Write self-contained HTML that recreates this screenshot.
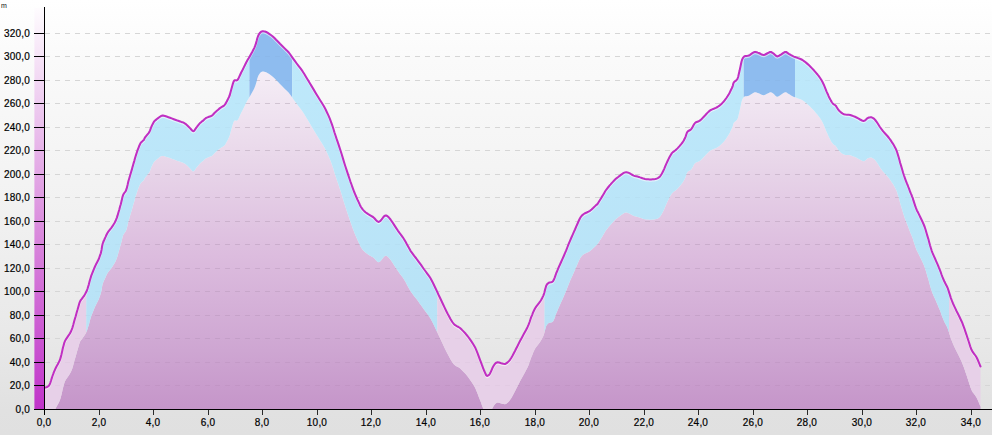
<!DOCTYPE html>
<html><head><meta charset="utf-8"><title>Elevation profile</title>
<style>
html,body{margin:0;padding:0;}
body{width:992px;height:435px;overflow:hidden;background:#e0e0e0;font-family:"Liberation Sans",sans-serif;}
#c{position:relative;width:992px;height:435px;background:linear-gradient(to bottom,#ffffff 0px,#fafafa 60px,#f2f2f2 200px,#e9e9e9 330px,#e1e1e1 410px,#e0e0e0 435px);overflow:hidden;}
svg{position:absolute;left:0;top:0;}
.yl,.xl{-webkit-text-stroke:0.2px #000;}
.yl{position:absolute;left:0;width:30px;text-align:right;font-size:10px;line-height:12px;color:#000;letter-spacing:0.2px;}
.xl{position:absolute;top:417px;width:40px;text-align:center;font-size:10px;line-height:12px;color:#000;letter-spacing:0.2px;}
.u{position:absolute;left:1px;top:2px;font-size:7px;line-height:8px;color:#111;}
</style></head><body><div id="c">
<svg width="992" height="435" viewBox="0 0 992 435">
<defs>
<linearGradient id="gf" gradientUnits="userSpaceOnUse" x1="0" y1="60" x2="0" y2="410">
<stop offset="0" stop-color="#f7f0f8"/><stop offset="0.0714" stop-color="#f3eaf4"/><stop offset="0.2743" stop-color="#e9d8ea"/><stop offset="0.56" stop-color="#dcbcde"/><stop offset="0.83" stop-color="#cea6d2"/><stop offset="1" stop-color="#c595c9"/>
</linearGradient>
<linearGradient id="gb" gradientUnits="userSpaceOnUse" x1="0" y1="8" x2="0" y2="410">
<stop offset="0" stop-color="#fefcfe"/><stop offset="0.25" stop-color="#edc9ef"/><stop offset="0.55" stop-color="#da8cdd"/><stop offset="1" stop-color="#c033c9"/>
</linearGradient>
<linearGradient id="gl" gradientUnits="userSpaceOnUse" x1="0" y1="50" x2="0" y2="330"><stop offset="0" stop-color="#bee9fb"/><stop offset="1" stop-color="#b8e2f6"/></linearGradient>
</defs>
<g stroke="#d6d6d6" stroke-width="1" stroke-dasharray="5,5" shape-rendering="crispEdges"><line x1="45" x2="992" y1="385.5" y2="385.5"/><line x1="45" x2="992" y1="362.5" y2="362.5"/><line x1="45" x2="992" y1="338.5" y2="338.5"/><line x1="45" x2="992" y1="315.5" y2="315.5"/><line x1="45" x2="992" y1="291.5" y2="291.5"/><line x1="45" x2="992" y1="268.5" y2="268.5"/><line x1="45" x2="992" y1="244.5" y2="244.5"/><line x1="45" x2="992" y1="221.5" y2="221.5"/><line x1="45" x2="992" y1="197.5" y2="197.5"/><line x1="45" x2="992" y1="174.5" y2="174.5"/><line x1="45" x2="992" y1="150.5" y2="150.5"/><line x1="45" x2="992" y1="127.5" y2="127.5"/><line x1="45" x2="992" y1="103.5" y2="103.5"/><line x1="45" x2="992" y1="80.5" y2="80.5"/><line x1="45" x2="992" y1="56.5" y2="56.5"/><line x1="45" x2="992" y1="33.5" y2="33.5"/></g>
<polygon points="45.0,409.5 45.0,409.5 45.3,409.5 45.9,409.5 46.5,409.5 47.0,409.5 47.5,409.5 48.2,409.5 48.9,409.5 49.5,409.5 50.2,409.5 51.0,409.5 51.8,409.5 52.5,409.5 53.2,409.5 53.9,409.5 54.7,409.5 55.5,408.8 56.5,406.8 57.8,404.6 59.0,402.2 60.0,400.1 60.7,397.7 61.4,395.1 62.0,392.4 62.5,390.1 63.0,387.9 63.6,385.7 64.2,383.4 65.0,381.3 66.3,379.1 68.1,376.5 69.9,373.8 71.2,371.3 72.3,368.4 73.3,365.0 74.2,361.6 75.0,358.8 75.7,356.5 76.3,354.2 76.9,352.0 77.5,350.1 78.1,348.0 78.8,345.6 79.4,343.4 80.0,341.8 80.6,340.7 81.2,339.9 81.8,339.2 82.5,338.3 83.3,337.1 84.4,335.6 85.4,333.9 86.2,332.4 86.9,330.8 87.6,328.8 88.2,326.8 88.8,324.9 89.3,322.9 89.9,320.6 90.6,318.3 91.2,316.2 92.1,314.0 93.1,311.4 94.1,308.9 95.0,306.8 95.9,304.9 96.9,303.0 97.9,301.0 98.8,299.3 99.4,297.5 100.1,295.6 100.8,293.6 101.2,291.8 101.6,290.0 101.9,288.0 102.2,286.0 102.6,284.3 103.1,282.8 103.7,281.3 104.4,279.8 105.0,278.4 105.7,276.9 106.4,275.3 107.3,273.6 108.1,272.2 109.1,270.9 110.3,269.4 111.5,267.9 112.5,266.6 113.4,265.0 114.5,263.3 115.5,261.4 116.2,259.7 116.9,257.9 117.6,255.7 118.2,253.5 118.8,251.6 119.4,249.5 120.0,247.1 120.7,244.8 121.2,242.8 121.7,240.9 122.1,238.9 122.6,236.9 123.1,235.3 123.8,234.0 124.7,232.8 125.6,231.6 126.2,230.3 126.7,228.7 127.2,226.7 127.7,224.7 128.1,222.8 128.6,220.8 129.3,218.5 130.0,216.1 130.6,214.1 131.2,212.0 131.9,209.7 132.5,207.4 133.1,205.3 133.7,203.2 134.4,200.9 135.0,198.5 135.6,196.6 136.2,194.7 136.9,192.6 137.5,190.7 138.1,189.1 138.7,187.6 139.3,186.0 140.0,184.5 140.6,183.4 141.3,182.5 142.2,181.7 143.1,180.9 143.8,180.3 144.1,179.7 144.3,179.2 144.6,178.6 145.0,177.8 145.9,176.7 147.1,175.2 148.4,173.6 149.4,172.2 150.1,170.7 150.7,169.0 151.3,167.3 151.9,165.9 152.5,164.7 153.1,163.6 153.7,162.5 154.4,161.6 155.2,160.7 156.2,159.9 157.2,159.1 158.1,158.4 158.9,157.8 159.7,157.1 160.6,156.6 161.2,156.2 161.8,156.0 162.3,155.9 163.0,155.9 163.8,156.1 165.0,156.4 166.6,156.9 168.4,157.5 170.0,158.1 171.7,158.7 173.8,159.5 175.9,160.3 177.5,160.9 178.8,161.3 180.2,161.8 181.4,162.2 182.5,162.6 183.5,163.0 184.4,163.5 185.4,164.1 186.2,164.7 187.1,165.5 188.1,166.5 189.1,167.5 190.0,168.4 190.8,169.3 191.7,170.4 192.6,171.2 193.4,171.6 194.1,171.1 194.8,170.2 195.5,169.1 196.2,168.1 197.1,167.0 198.1,165.7 199.1,164.4 200.0,163.4 200.8,162.7 201.6,162.0 202.4,161.5 203.1,160.9 203.8,160.3 204.5,159.5 205.4,158.8 206.2,158.2 207.5,157.7 209.0,157.1 210.6,156.5 211.9,155.9 212.9,155.1 213.8,154.1 214.7,153.1 215.6,152.2 216.6,151.3 217.8,150.3 219.0,149.2 220.0,148.4 221.1,147.7 222.3,147.0 223.5,146.3 224.4,145.6 225.1,144.7 225.7,143.7 226.3,142.6 226.9,141.6 227.5,140.4 228.2,138.9 229.0,137.3 229.8,135.3 230.6,132.3 231.7,128.2 232.8,124.2 233.8,121.5 234.6,120.6 235.6,120.6 236.6,120.7 237.5,120.3 238.4,119.0 239.3,117.0 240.3,114.8 241.2,112.8 242.4,110.6 243.7,107.9 245.1,105.1 246.2,102.8 247.4,100.6 248.8,98.3 250.1,96.0 251.2,94.0 252.2,92.3 253.2,90.4 254.2,88.4 255.0,86.5 255.8,84.2 256.6,81.4 257.3,78.6 258.0,76.5 258.7,75.1 259.4,73.9 260.1,73.0 260.8,72.3 261.3,71.9 261.8,71.7 262.4,71.6 263.0,71.5 263.6,71.6 264.4,71.7 265.3,71.9 266.2,72.3 267.5,73.0 269.2,74.1 270.9,75.3 272.5,76.5 274.2,78.1 276.1,80.1 278.1,82.1 280.0,84.0 282.0,86.0 284.4,88.4 286.8,90.7 288.8,92.8 290.3,94.8 291.9,97.1 293.5,99.4 295.0,101.5 296.7,103.8 298.7,106.4 300.7,109.0 302.5,111.5 304.3,114.3 306.2,117.5 308.2,120.8 310.0,123.8 311.9,126.9 314.0,130.4 316.1,134.0 318.0,137.1 319.8,140.0 321.9,143.3 323.9,146.6 325.5,149.6 326.9,152.5 328.4,155.7 329.8,159.0 331.0,162.1 332.1,165.2 333.3,168.8 334.4,172.5 335.5,175.8 336.6,179.2 338.0,183.2 339.3,187.2 340.5,190.8 341.7,194.6 343.0,198.9 344.3,203.3 345.5,207.1 346.7,210.7 348.1,214.9 349.4,218.8 350.5,222.1 351.5,224.8 352.4,227.5 353.4,230.1 354.2,232.3 355.1,234.5 356.1,236.8 357.1,239.1 358.0,241.1 358.9,242.9 359.8,245.0 360.8,247.0 361.8,248.6 362.8,249.9 364.1,251.2 365.5,252.5 366.8,253.6 368.2,254.5 369.8,255.4 371.5,256.4 373.0,257.3 374.4,258.6 375.9,260.3 377.4,261.7 378.8,262.3 380.1,261.5 381.7,259.7 383.1,257.8 384.2,256.6 385.0,256.0 385.6,255.8 386.1,255.8 386.8,256.1 387.5,256.5 388.4,257.3 389.4,258.4 390.5,259.8 392.1,262.1 394.1,265.2 396.2,268.4 398.0,271.1 399.5,273.2 401.2,275.4 402.8,277.6 404.2,279.8 405.7,282.3 407.3,285.4 409.0,288.4 410.5,291.1 412.2,293.5 414.2,296.2 416.3,298.8 418.0,301.1 419.5,303.2 421.2,305.5 422.8,307.8 424.2,309.8 425.7,311.8 427.4,314.1 429.1,316.4 430.5,318.6 431.7,320.8 433.0,323.3 434.3,326.0 435.5,328.6 436.9,331.4 438.4,334.8 440.1,338.3 441.5,341.3 442.9,344.3 444.5,347.7 446.1,351.0 447.5,353.8 449.0,356.5 450.6,359.5 452.3,362.3 453.8,364.3 455.2,365.5 456.8,366.4 458.5,367.3 460.0,368.3 461.7,369.9 463.7,371.9 465.7,374.1 467.5,376.3 469.3,378.7 471.4,381.7 473.4,384.8 475.0,387.6 476.3,390.5 477.7,393.9 478.9,397.2 480.0,400.1 481.0,402.6 482.0,405.5 483.0,408.1 483.8,409.5 484.4,409.5 485.0,409.5 485.5,409.5 485.9,409.5 486.2,409.5 486.5,409.5 486.8,409.5 487.1,409.5 487.4,409.5 487.7,409.5 488.1,409.5 488.4,409.5 488.7,409.5 489.1,409.5 489.5,409.5 490.0,409.5 490.8,409.5 491.8,409.5 492.8,407.5 493.8,405.8 494.6,404.7 495.4,403.7 496.4,402.9 497.5,402.6 499.1,402.8 501.2,403.5 503.3,404.1 505.0,404.3 506.3,403.7 507.6,402.7 508.9,401.4 510.0,400.1 511.2,398.3 512.5,396.0 513.8,393.5 515.0,391.3 516.1,389.1 517.4,386.6 518.7,383.9 520.0,381.3 521.7,378.2 523.8,374.4 525.9,370.6 527.5,367.6 528.6,365.0 529.6,362.3 530.4,359.8 531.2,357.6 532.1,355.4 533.0,353.0 534.0,350.8 535.0,348.8 536.2,346.9 537.8,344.9 539.3,343.0 540.5,341.3 541.4,339.8 542.3,338.1 543.1,336.4 543.8,334.8 544.4,332.8 545.0,330.2 545.7,327.8 546.2,326.1 546.8,325.0 547.4,324.2 548.1,323.6 548.8,323.1 549.7,322.7 550.8,322.6 552.0,322.3 553.0,321.6 553.8,320.1 554.7,317.9 555.5,315.6 556.2,313.6 557.1,311.6 558.0,309.3 559.0,307.0 560.0,304.8 561.1,302.3 562.4,299.4 563.8,296.3 565.0,293.6 566.2,290.7 567.5,287.3 568.8,283.9 570.0,281.1 571.2,278.3 572.5,275.4 573.8,272.4 575.0,269.8 576.2,267.0 577.6,263.8 578.9,260.8 580.0,258.6 580.9,257.1 581.8,256.0 582.7,255.1 583.8,254.3 585.1,253.5 586.7,252.8 588.5,251.9 590.0,251.1 591.6,249.8 593.4,248.1 595.1,246.4 596.2,245.3 596.8,244.9 597.0,244.9 597.1,244.8 597.5,244.3 598.3,243.0 599.5,241.1 600.8,239.0 601.9,237.2 602.9,235.5 604.1,233.5 605.2,231.6 606.2,230.1 607.3,228.7 608.4,227.3 609.5,225.9 610.6,224.7 611.7,223.4 613.1,221.9 614.4,220.5 615.6,219.3 616.7,218.4 617.9,217.5 619.0,216.6 620.0,215.9 620.9,215.2 622.0,214.4 623.0,213.7 623.8,213.2 624.4,212.9 624.9,212.7 625.5,212.6 626.0,212.6 626.6,212.6 627.2,212.7 628.0,212.9 628.8,213.2 629.8,213.7 631.1,214.5 632.5,215.3 633.8,215.9 634.9,216.3 636.2,216.6 637.5,216.9 638.8,217.2 640.1,217.7 641.8,218.3 643.5,218.9 645.0,219.3 646.5,219.5 648.2,219.6 649.9,219.7 651.2,219.7 652.5,219.6 653.9,219.5 655.2,219.3 656.2,219.1 657.2,218.7 658.2,218.2 659.2,217.5 660.0,216.8 660.7,215.8 661.5,214.6 662.3,213.1 663.1,211.6 664.1,209.4 665.2,206.7 666.4,203.9 667.5,201.6 668.5,199.4 669.7,197.1 670.9,195.0 671.9,193.4 672.9,192.4 674.0,191.6 675.1,190.8 676.2,189.9 677.7,188.4 679.5,186.4 681.2,184.4 682.5,182.8 683.3,181.6 683.9,180.5 684.5,179.4 685.0,178.3 685.6,176.9 686.2,175.1 686.8,173.3 687.5,172.1 688.3,171.3 689.3,170.8 690.3,170.3 691.2,169.6 692.1,168.2 693.1,166.4 694.0,164.6 695.0,163.3 696.1,162.5 697.4,162.0 698.8,161.5 700.0,160.8 701.2,159.8 702.5,158.4 703.8,157.0 705.0,155.8 706.1,154.6 707.4,153.2 708.7,151.9 710.0,150.8 711.6,149.9 713.7,149.1 715.8,148.2 717.5,147.3 719.1,146.2 720.8,144.7 722.4,143.2 723.8,141.8 725.0,140.2 726.4,138.3 727.7,136.3 728.8,134.6 729.8,132.7 730.8,130.6 731.8,128.6 732.5,127.0 732.9,125.8 733.1,124.7 733.4,123.7 733.8,122.8 734.5,122.0 735.6,121.2 736.6,120.3 737.5,119.0 738.2,117.0 738.8,114.3 739.5,111.4 740.0,109.0 740.5,106.8 741.0,104.3 741.5,102.0 742.0,100.3 742.5,99.1 743.1,98.0 743.8,97.2 744.5,96.5 745.4,96.3 746.5,96.2 747.6,96.1 748.8,95.8 750.0,95.1 751.6,94.0 753.2,92.9 754.5,92.3 755.6,92.2 756.7,92.5 757.7,92.9 758.8,93.3 759.9,93.8 761.1,94.5 762.5,95.1 763.8,95.3 765.2,94.8 767.0,93.8 768.7,92.9 770.0,92.3 770.9,92.3 771.7,92.6 772.5,93.1 773.2,93.5 774.1,94.3 775.2,95.4 776.3,96.4 777.5,96.7 779.1,96.0 781.3,94.6 783.4,93.1 785.0,92.3 786.1,92.3 787.0,92.8 787.9,93.5 788.8,94.0 789.8,94.6 791.1,95.4 792.5,96.2 794.0,96.9 795.8,97.6 798.1,98.4 800.5,99.3 802.5,100.3 804.3,101.6 806.3,103.2 808.3,104.9 810.0,106.5 811.8,108.4 813.9,110.6 815.9,112.9 817.5,114.8 818.8,116.5 820.1,118.3 821.4,120.3 822.5,122.3 823.8,125.0 825.2,128.5 826.6,131.9 827.8,134.6 828.6,136.5 829.5,138.2 830.3,139.7 830.9,140.9 831.5,141.9 832.1,142.8 832.7,143.6 833.2,144.2 833.8,144.7 834.4,145.0 835.1,145.4 835.7,146.0 836.4,147.0 837.2,148.3 838.1,149.7 839.0,150.8 840.0,151.8 841.3,152.9 842.7,153.9 844.0,154.6 845.4,154.9 847.1,155.0 848.8,155.1 850.2,155.3 851.7,155.8 853.3,156.4 855.0,157.1 856.5,157.8 858.2,158.7 860.1,159.8 862.0,160.8 863.5,161.3 864.7,160.9 865.8,160.0 866.8,159.0 867.8,158.3 868.6,157.9 869.5,157.7 870.5,157.5 871.3,157.6 872.2,157.9 873.1,158.4 874.2,159.2 875.2,160.3 876.6,162.1 878.2,164.6 879.9,167.3 881.5,169.6 883.2,171.7 885.3,174.0 887.4,176.3 889.0,178.3 890.4,180.2 891.7,182.2 893.0,184.1 894.0,185.8 894.8,187.2 895.6,188.7 896.3,190.3 897.0,192.1 897.7,194.4 898.6,197.3 899.5,200.5 900.2,203.3 901.1,206.2 902.1,209.6 903.1,213.0 904.0,215.8 904.9,218.4 905.9,221.1 906.9,223.7 907.8,225.8 908.4,227.5 909.1,229.2 909.7,230.9 910.2,232.3 910.8,233.7 911.5,235.2 912.1,236.9 912.8,238.6 913.4,240.7 914.3,243.4 915.2,246.2 916.0,248.6 916.9,250.7 918.1,252.9 919.2,255.2 920.2,257.3 921.3,259.5 922.5,262.1 923.7,264.8 924.7,267.3 925.6,270.1 926.6,273.5 927.6,276.9 928.5,279.8 929.2,282.5 930.0,285.6 930.9,288.5 931.7,291.1 932.6,293.5 933.8,296.2 935.0,298.8 936.0,301.1 936.9,303.2 937.9,305.4 938.8,307.7 939.7,309.8 940.6,312.1 941.5,314.8 942.5,317.5 943.5,319.8 944.4,321.9 945.5,324.0 946.7,326.3 947.7,328.6 948.7,331.4 949.8,334.9 950.9,338.4 952.0,341.3 953.0,343.8 954.2,346.4 955.4,348.9 956.5,351.3 957.8,353.8 959.3,356.8 960.7,359.8 962.0,362.6 963.1,365.4 964.3,368.6 965.4,371.9 966.5,375.1 967.6,378.6 969.0,382.8 970.3,386.9 971.5,390.1 972.7,392.2 974.1,394.1 975.4,395.8 976.5,397.6 977.6,399.8 978.8,402.6 979.8,405.1 980.5,406.8 980.5,409.5" fill="url(#gf)"/>
<polygon points="45.0,387.5 45.3,387.4 45.9,387.4 46.5,387.2 47.0,387.0 47.5,386.7 48.2,386.3 48.9,385.7 49.5,384.8 50.2,383.1 51.0,380.7 51.8,378.1 52.5,376.0 53.2,374.2 53.9,372.2 54.7,370.3 55.5,368.5 56.5,366.5 57.8,364.3 59.0,361.9 60.0,359.8 60.7,357.4 61.4,354.8 62.0,352.1 62.5,349.8 63.0,347.6 63.6,345.4 64.2,343.1 65.0,341.0 66.3,338.8 68.1,336.2 69.9,333.5 71.2,331.0 72.3,328.1 73.3,324.7 74.2,321.3 75.0,318.5 75.7,316.2 76.3,313.9 76.9,311.7 77.5,309.8 78.1,307.7 78.8,305.3 79.4,303.1 80.0,301.5 80.6,300.4 81.2,299.6 81.8,298.9 82.5,298.0 83.3,296.8 84.4,295.3 85.4,293.6 86.2,292.1 86.3,292.0 86.3,332.3 86.2,332.4 85.4,333.9 84.4,335.6 83.3,337.1 82.5,338.3 81.8,339.2 81.2,339.9 80.6,340.7 80.0,341.8 79.4,343.4 78.8,345.6 78.1,348.0 77.5,350.1 76.9,352.0 76.3,354.2 75.7,356.5 75.0,358.8 74.2,361.6 73.3,365.0 72.3,368.4 71.2,371.3 69.9,373.8 68.1,376.5 66.3,379.1 65.0,381.3 64.2,383.4 63.6,385.7 63.0,387.9 62.5,390.1 62.0,392.4 61.4,395.1 60.7,397.7 60.0,400.1 59.0,402.2 57.8,404.6 56.5,406.8 55.5,408.8 54.7,409.5 53.9,409.5 53.2,409.5 52.5,409.5 51.8,409.5 51.0,409.5 50.2,409.5 49.5,409.5 48.9,409.5 48.2,409.5 47.5,409.5 47.0,409.5 46.5,409.5 45.9,409.5 45.3,409.5 45.0,409.5" fill="#e7d0e8"/><polygon points="86.3,292.0 86.9,290.5 87.6,288.5 88.2,286.5 88.8,284.6 89.3,282.6 89.9,280.3 90.6,278.0 91.2,275.9 92.1,273.7 93.1,271.1 94.1,268.6 95.0,266.5 95.9,264.6 96.9,262.7 97.9,260.7 98.8,259.0 99.4,257.2 100.1,255.2 100.8,253.3 101.2,251.5 101.6,249.7 101.9,247.7 102.2,245.7 102.6,244.0 103.1,242.5 103.7,241.0 104.4,239.5 105.0,238.1 105.7,236.6 106.4,235.0 107.3,233.3 108.1,231.9 109.1,230.6 110.3,229.1 111.5,227.6 112.5,226.2 113.4,224.7 114.5,223.0 115.5,221.1 116.2,219.4 116.9,217.6 117.6,215.4 118.2,213.2 118.8,211.2 119.4,209.2 120.0,206.8 120.7,204.5 121.2,202.5 121.7,200.6 122.1,198.6 122.6,196.6 123.1,195.0 123.8,193.7 124.7,192.5 125.6,191.3 126.2,190.0 126.7,188.4 127.2,186.4 127.7,184.4 128.1,182.5 128.6,180.5 129.3,178.2 130.0,175.8 130.6,173.8 131.2,171.7 131.9,169.4 132.5,167.1 133.1,165.0 133.7,162.9 134.4,160.6 135.0,158.2 135.6,156.2 136.2,154.4 136.9,152.3 137.5,150.4 138.1,148.8 138.7,147.3 139.3,145.7 140.0,144.2 140.6,143.1 141.3,142.2 142.2,141.4 143.1,140.6 143.8,140.0 144.1,139.4 144.3,138.9 144.6,138.3 145.0,137.5 145.9,136.4 147.1,134.9 148.4,133.3 149.4,131.9 150.1,130.4 150.7,128.7 151.3,127.0 151.9,125.6 152.5,124.4 153.1,123.3 153.7,122.2 154.4,121.2 155.2,120.4 156.2,119.6 157.2,118.8 158.1,118.1 158.9,117.5 159.7,116.8 160.6,116.3 161.2,115.9 161.8,115.7 162.3,115.6 163.0,115.6 163.8,115.8 165.0,116.1 166.6,116.6 168.4,117.2 170.0,117.8 171.7,118.4 173.8,119.2 175.9,120.0 177.5,120.6 178.8,121.0 180.2,121.5 181.4,121.9 182.5,122.2 183.5,122.7 184.4,123.2 185.4,123.8 186.2,124.4 187.1,125.2 188.1,126.2 189.1,127.2 190.0,128.1 190.8,129.0 191.7,130.1 192.6,130.9 193.4,131.2 194.1,130.8 194.8,129.9 195.5,128.8 196.2,127.8 197.1,126.7 198.1,125.4 199.1,124.1 200.0,123.1 200.8,122.4 201.6,121.7 202.4,121.2 203.1,120.6 203.8,120.0 204.5,119.2 205.4,118.5 206.2,117.9 207.5,117.4 209.0,116.8 210.6,116.2 211.9,115.6 212.9,114.8 213.8,113.8 214.7,112.8 215.6,111.9 216.6,111.0 217.8,110.0 219.0,108.9 220.0,108.1 221.1,107.4 222.3,106.7 223.5,106.0 224.4,105.2 225.1,104.4 225.7,103.4 226.3,102.3 226.9,101.2 227.5,100.1 228.2,98.6 229.0,97.0 229.8,95.0 230.6,92.0 231.7,87.9 232.8,83.9 233.8,81.2 234.6,80.3 235.6,80.3 236.6,80.4 237.5,80.0 238.4,78.7 239.3,76.7 240.3,74.5 241.2,72.5 242.4,70.3 243.7,67.6 245.1,64.8 246.2,62.5 247.4,60.3 248.8,58.0 249.4,57.0 249.4,97.3 248.8,98.3 247.4,100.6 246.2,102.8 245.1,105.1 243.7,107.9 242.4,110.6 241.2,112.8 240.3,114.8 239.3,117.0 238.4,119.0 237.5,120.3 236.6,120.7 235.6,120.6 234.6,120.6 233.8,121.5 232.8,124.2 231.7,128.2 230.6,132.3 229.8,135.3 229.0,137.3 228.2,138.9 227.5,140.4 226.9,141.6 226.3,142.6 225.7,143.7 225.1,144.7 224.4,145.6 223.5,146.3 222.3,147.0 221.1,147.7 220.0,148.4 219.0,149.2 217.8,150.3 216.6,151.3 215.6,152.2 214.7,153.1 213.8,154.1 212.9,155.1 211.9,155.9 210.6,156.5 209.0,157.1 207.5,157.7 206.2,158.2 205.4,158.8 204.5,159.5 203.8,160.3 203.1,160.9 202.4,161.5 201.6,162.0 200.8,162.7 200.0,163.4 199.1,164.4 198.1,165.7 197.1,167.0 196.2,168.1 195.5,169.1 194.8,170.2 194.1,171.1 193.4,171.6 192.6,171.2 191.7,170.4 190.8,169.3 190.0,168.4 189.1,167.5 188.1,166.5 187.1,165.5 186.2,164.7 185.4,164.1 184.4,163.5 183.5,163.0 182.5,162.6 181.4,162.2 180.2,161.8 178.8,161.3 177.5,160.9 175.9,160.3 173.8,159.5 171.7,158.7 170.0,158.1 168.4,157.5 166.6,156.9 165.0,156.4 163.8,156.1 163.0,155.9 162.3,155.9 161.8,156.0 161.2,156.2 160.6,156.6 159.7,157.1 158.9,157.8 158.1,158.4 157.2,159.1 156.2,159.9 155.2,160.7 154.4,161.6 153.7,162.5 153.1,163.6 152.5,164.7 151.9,165.9 151.3,167.3 150.7,169.0 150.1,170.7 149.4,172.2 148.4,173.6 147.1,175.2 145.9,176.7 145.0,177.8 144.6,178.6 144.3,179.2 144.1,179.7 143.8,180.3 143.1,180.9 142.2,181.7 141.3,182.5 140.6,183.4 140.0,184.5 139.3,186.0 138.7,187.6 138.1,189.1 137.5,190.7 136.9,192.6 136.2,194.7 135.6,196.6 135.0,198.5 134.4,200.9 133.7,203.2 133.1,205.3 132.5,207.4 131.9,209.7 131.2,212.0 130.6,214.1 130.0,216.1 129.3,218.5 128.6,220.8 128.1,222.8 127.7,224.7 127.2,226.7 126.7,228.7 126.2,230.3 125.6,231.6 124.7,232.8 123.8,234.0 123.1,235.3 122.6,236.9 122.1,238.9 121.7,240.9 121.2,242.8 120.7,244.8 120.0,247.1 119.4,249.5 118.8,251.6 118.2,253.5 117.6,255.7 116.9,257.9 116.2,259.7 115.5,261.4 114.5,263.3 113.4,265.0 112.5,266.6 111.5,267.9 110.3,269.4 109.1,270.9 108.1,272.2 107.3,273.6 106.4,275.3 105.7,276.9 105.0,278.4 104.4,279.8 103.7,281.3 103.1,282.8 102.6,284.3 102.2,286.0 101.9,288.0 101.6,290.0 101.2,291.8 100.8,293.6 100.1,295.6 99.4,297.5 98.8,299.3 97.9,301.0 96.9,303.0 95.9,304.9 95.0,306.8 94.1,308.9 93.1,311.4 92.1,314.0 91.2,316.2 90.6,318.3 89.9,320.6 89.3,322.9 88.8,324.9 88.2,326.8 87.6,328.8 86.9,330.8 86.3,332.3" fill="url(#gl)"/><polygon points="249.4,57.0 250.1,55.7 251.2,53.8 252.2,52.0 253.2,50.1 254.2,48.1 255.0,46.2 255.8,43.9 256.6,41.1 257.3,38.3 258.0,36.2 258.7,34.8 259.4,33.6 260.1,32.7 260.8,32.0 261.3,31.6 261.8,31.4 262.4,31.3 263.0,31.2 263.6,31.3 264.4,31.4 265.3,31.6 266.2,32.0 267.5,32.7 269.2,33.8 270.9,35.0 272.5,36.2 274.2,37.8 276.1,39.8 278.1,41.8 280.0,43.8 282.0,45.7 284.4,48.1 286.8,50.4 288.8,52.5 290.3,54.5 291.9,56.8 292.1,57.0 292.1,97.3 291.9,97.1 290.3,94.8 288.8,92.8 286.8,90.7 284.4,88.4 282.0,86.0 280.0,84.0 278.1,82.1 276.1,80.1 274.2,78.1 272.5,76.5 270.9,75.3 269.2,74.1 267.5,73.0 266.2,72.3 265.3,71.9 264.4,71.7 263.6,71.6 263.0,71.5 262.4,71.6 261.8,71.7 261.3,71.9 260.8,72.3 260.1,73.0 259.4,73.9 258.7,75.1 258.0,76.5 257.3,78.6 256.6,81.4 255.8,84.2 255.0,86.5 254.2,88.4 253.2,90.4 252.2,92.3 251.2,94.0 250.1,96.0 249.4,97.3" fill="#8ebcef"/><polygon points="292.1,57.0 293.5,59.1 295.0,61.2 296.7,63.5 298.7,66.1 300.7,68.7 302.5,71.2 304.3,74.0 306.2,77.2 308.2,80.5 310.0,83.5 311.9,86.6 314.0,90.1 316.1,93.7 318.0,96.8 319.8,99.7 321.9,103.0 323.9,106.3 325.5,109.2 326.9,112.2 328.4,115.4 329.8,118.7 331.0,121.8 332.1,124.9 333.3,128.5 334.4,132.2 335.5,135.5 336.6,138.9 338.0,142.9 339.3,146.9 340.5,150.5 341.7,154.3 343.0,158.6 344.3,163.0 345.5,166.8 346.7,170.4 348.1,174.6 349.4,178.5 350.5,181.8 351.5,184.5 352.4,187.2 353.4,189.8 354.2,192.0 355.1,194.2 356.1,196.5 357.1,198.8 358.0,200.8 358.9,202.6 359.8,204.7 360.8,206.7 361.8,208.2 362.8,209.6 364.1,210.9 365.5,212.2 366.8,213.2 368.2,214.2 369.8,215.1 371.5,216.1 373.0,217.0 374.4,218.3 375.9,220.0 377.4,221.4 378.8,222.0 380.1,221.2 381.7,219.4 383.1,217.5 384.2,216.2 385.0,215.7 385.6,215.5 386.1,215.5 386.8,215.8 387.5,216.2 388.4,217.0 389.4,218.1 390.5,219.5 392.1,221.8 394.1,224.9 396.2,228.1 398.0,230.8 399.5,232.9 401.2,235.1 402.8,237.3 404.2,239.5 405.7,242.0 407.3,245.1 409.0,248.1 410.5,250.8 412.2,253.2 414.2,255.9 416.3,258.5 418.0,260.8 419.5,262.9 421.2,265.2 422.8,267.5 424.2,269.5 425.7,271.5 427.4,273.8 429.1,276.1 430.5,278.2 431.7,280.5 433.0,283.0 434.3,285.7 435.5,288.2 436.9,291.1 437.3,292.0 437.3,332.3 436.9,331.4 435.5,328.6 434.3,326.0 433.0,323.3 431.7,320.8 430.5,318.6 429.1,316.4 427.4,314.1 425.7,311.8 424.2,309.8 422.8,307.8 421.2,305.5 419.5,303.2 418.0,301.1 416.3,298.8 414.2,296.2 412.2,293.5 410.5,291.1 409.0,288.4 407.3,285.4 405.7,282.3 404.2,279.8 402.8,277.6 401.2,275.4 399.5,273.2 398.0,271.1 396.2,268.4 394.1,265.2 392.1,262.1 390.5,259.8 389.4,258.4 388.4,257.3 387.5,256.5 386.8,256.1 386.1,255.8 385.6,255.8 385.0,256.0 384.2,256.6 383.1,257.8 381.7,259.7 380.1,261.5 378.8,262.3 377.4,261.7 375.9,260.3 374.4,258.6 373.0,257.3 371.5,256.4 369.8,255.4 368.2,254.5 366.8,253.6 365.5,252.5 364.1,251.2 362.8,249.9 361.8,248.6 360.8,247.0 359.8,245.0 358.9,242.9 358.0,241.1 357.1,239.1 356.1,236.8 355.1,234.5 354.2,232.3 353.4,230.1 352.4,227.5 351.5,224.8 350.5,222.1 349.4,218.8 348.1,214.9 346.7,210.7 345.5,207.1 344.3,203.3 343.0,198.9 341.7,194.6 340.5,190.8 339.3,187.2 338.0,183.2 336.6,179.2 335.5,175.8 334.4,172.5 333.3,168.8 332.1,165.2 331.0,162.1 329.8,159.0 328.4,155.7 326.9,152.5 325.5,149.6 323.9,146.6 321.9,143.3 319.8,140.0 318.0,137.1 316.1,134.0 314.0,130.4 311.9,126.9 310.0,123.8 308.2,120.8 306.2,117.5 304.3,114.3 302.5,111.5 300.7,109.0 298.7,106.4 296.7,103.8 295.0,101.5 293.5,99.4 292.1,97.3" fill="url(#gl)"/><polygon points="437.3,292.0 438.4,294.5 440.1,298.0 441.5,301.0 442.9,304.0 444.5,307.4 446.1,310.7 447.5,313.5 449.0,316.2 450.6,319.2 452.3,322.0 453.8,324.0 455.2,325.2 456.8,326.1 458.5,327.0 460.0,328.0 461.7,329.6 463.7,331.6 465.7,333.8 467.5,336.0 469.3,338.4 471.4,341.4 473.4,344.5 475.0,347.2 476.3,350.2 477.7,353.6 478.9,356.9 480.0,359.8 481.0,362.3 482.0,365.2 483.0,367.8 483.8,369.8 484.4,371.3 485.0,372.6 485.5,373.8 485.9,374.6 486.2,375.2 486.5,375.5 486.8,375.8 487.1,375.9 487.4,375.9 487.7,375.8 488.1,375.5 488.4,375.3 488.7,375.1 489.1,374.8 489.5,374.3 490.0,373.5 490.8,371.9 491.8,369.6 492.8,367.2 493.8,365.5 494.6,364.4 495.4,363.4 496.4,362.6 497.5,362.2 499.1,362.5 501.2,363.2 503.3,363.8 505.0,364.0 506.3,363.4 507.6,362.4 508.9,361.1 510.0,359.8 511.2,358.0 512.5,355.7 513.8,353.2 515.0,351.0 516.1,348.8 517.4,346.3 518.7,343.6 520.0,341.0 521.7,337.9 523.8,334.1 525.9,330.3 527.5,327.2 528.6,324.7 529.6,322.0 530.4,319.5 531.2,317.2 532.1,315.1 533.0,312.7 534.0,310.5 535.0,308.5 536.2,306.6 537.8,304.6 539.3,302.7 540.5,301.0 541.4,299.5 542.3,297.8 543.1,296.1 543.8,294.5 544.4,292.5 544.5,292.0 544.5,332.3 544.4,332.8 543.8,334.8 543.1,336.4 542.3,338.1 541.4,339.8 540.5,341.3 539.3,343.0 537.8,344.9 536.2,346.9 535.0,348.8 534.0,350.8 533.0,353.0 532.1,355.4 531.2,357.6 530.4,359.8 529.6,362.3 528.6,365.0 527.5,367.6 525.9,370.6 523.8,374.4 521.7,378.2 520.0,381.3 518.7,383.9 517.4,386.6 516.1,389.1 515.0,391.3 513.8,393.5 512.5,396.0 511.2,398.3 510.0,400.1 508.9,401.4 507.6,402.7 506.3,403.7 505.0,404.3 503.3,404.1 501.2,403.5 499.1,402.8 497.5,402.6 496.4,402.9 495.4,403.7 494.6,404.7 493.8,405.8 492.8,407.5 491.8,409.5 490.8,409.5 490.0,409.5 489.5,409.5 489.1,409.5 488.7,409.5 488.4,409.5 488.1,409.5 487.7,409.5 487.4,409.5 487.1,409.5 486.8,409.5 486.5,409.5 486.2,409.5 485.9,409.5 485.5,409.5 485.0,409.5 484.4,409.5 483.8,409.5 483.0,408.1 482.0,405.5 481.0,402.6 480.0,400.1 478.9,397.2 477.7,393.9 476.3,390.5 475.0,387.6 473.4,384.8 471.4,381.7 469.3,378.7 467.5,376.3 465.7,374.1 463.7,371.9 461.7,369.9 460.0,368.3 458.5,367.3 456.8,366.4 455.2,365.5 453.8,364.3 452.3,362.3 450.6,359.5 449.0,356.5 447.5,353.8 446.1,351.0 444.5,347.7 442.9,344.3 441.5,341.3 440.1,338.3 438.4,334.8 437.3,332.3" fill="#e7d0e8"/><polygon points="544.5,292.0 545.0,289.9 545.7,287.5 546.2,285.8 546.8,284.7 547.4,283.9 548.1,283.3 548.8,282.8 549.7,282.4 550.8,282.3 552.0,282.0 553.0,281.2 553.8,279.8 554.7,277.6 555.5,275.3 556.2,273.2 557.1,271.3 558.0,269.0 559.0,266.7 560.0,264.5 561.1,262.0 562.4,259.1 563.8,256.0 565.0,253.2 566.2,250.4 567.5,247.0 568.8,243.6 570.0,240.8 571.2,238.0 572.5,235.1 573.8,232.1 575.0,229.5 576.2,226.7 577.6,223.5 578.9,220.5 580.0,218.2 580.9,216.8 581.8,215.7 582.7,214.8 583.8,214.0 585.1,213.2 586.7,212.5 588.5,211.6 590.0,210.8 591.6,209.5 593.4,207.8 595.1,206.1 596.2,205.0 596.8,204.6 597.0,204.6 597.1,204.5 597.5,204.0 598.3,202.7 599.5,200.8 600.8,198.7 601.9,196.9 602.9,195.2 604.1,193.2 605.2,191.3 606.2,189.8 607.3,188.4 608.4,187.0 609.5,185.6 610.6,184.4 611.7,183.1 613.1,181.6 614.4,180.2 615.6,179.0 616.7,178.1 617.9,177.2 619.0,176.3 620.0,175.6 620.9,174.9 622.0,174.1 623.0,173.4 623.8,172.9 624.4,172.6 624.9,172.4 625.5,172.3 626.0,172.2 626.6,172.3 627.2,172.4 628.0,172.6 628.8,172.9 629.8,173.4 631.1,174.2 632.5,175.0 633.8,175.6 634.9,176.0 636.2,176.3 637.5,176.6 638.8,176.9 640.1,177.4 641.8,178.0 643.5,178.6 645.0,179.0 646.5,179.2 648.2,179.3 649.9,179.4 651.2,179.4 652.5,179.3 653.9,179.2 655.2,179.0 656.2,178.8 657.2,178.4 658.2,177.9 659.2,177.2 660.0,176.5 660.7,175.5 661.5,174.3 662.3,172.8 663.1,171.2 664.1,169.1 665.2,166.4 666.4,163.6 667.5,161.2 668.5,159.1 669.7,156.8 670.9,154.7 671.9,153.1 672.9,152.1 674.0,151.3 675.1,150.5 676.2,149.6 677.7,148.1 679.5,146.1 681.2,144.1 682.5,142.5 683.3,141.3 683.9,140.2 684.5,139.1 685.0,138.0 685.6,136.6 686.2,134.8 686.8,133.0 687.5,131.8 688.3,131.0 689.3,130.5 690.3,130.0 691.2,129.2 692.1,127.9 693.1,126.1 694.0,124.3 695.0,123.0 696.1,122.2 697.4,121.7 698.8,121.2 700.0,120.5 701.2,119.5 702.5,118.1 703.8,116.7 705.0,115.5 706.1,114.3 707.4,112.9 708.7,111.6 710.0,110.5 711.6,109.6 713.7,108.8 715.8,107.9 717.5,107.0 719.1,105.9 720.8,104.4 722.4,102.9 723.8,101.5 725.0,99.9 726.4,98.0 727.7,96.0 728.8,94.2 729.8,92.4 730.8,90.3 731.8,88.3 732.5,86.8 732.9,85.5 733.1,84.4 733.4,83.4 733.8,82.5 734.5,81.7 735.6,80.9 736.6,80.0 737.5,78.8 738.2,76.7 738.8,74.0 739.5,71.1 740.0,68.8 740.5,66.5 741.0,64.0 741.5,61.7 742.0,60.0 742.5,58.8 743.1,57.7 743.7,57.0 743.7,97.3 743.1,98.0 742.5,99.1 742.0,100.3 741.5,102.0 741.0,104.3 740.5,106.8 740.0,109.0 739.5,111.4 738.8,114.3 738.2,117.0 737.5,119.0 736.6,120.3 735.6,121.2 734.5,122.0 733.8,122.8 733.4,123.7 733.1,124.7 732.9,125.8 732.5,127.0 731.8,128.6 730.8,130.6 729.8,132.7 728.8,134.6 727.7,136.3 726.4,138.3 725.0,140.2 723.8,141.8 722.4,143.2 720.8,144.7 719.1,146.2 717.5,147.3 715.8,148.2 713.7,149.1 711.6,149.9 710.0,150.8 708.7,151.9 707.4,153.2 706.1,154.6 705.0,155.8 703.8,157.0 702.5,158.4 701.2,159.8 700.0,160.8 698.8,161.5 697.4,162.0 696.1,162.5 695.0,163.3 694.0,164.6 693.1,166.4 692.1,168.2 691.2,169.6 690.3,170.3 689.3,170.8 688.3,171.3 687.5,172.1 686.8,173.3 686.2,175.1 685.6,176.9 685.0,178.3 684.5,179.4 683.9,180.5 683.3,181.6 682.5,182.8 681.2,184.4 679.5,186.4 677.7,188.4 676.2,189.9 675.1,190.8 674.0,191.6 672.9,192.4 671.9,193.4 670.9,195.0 669.7,197.1 668.5,199.4 667.5,201.6 666.4,203.9 665.2,206.7 664.1,209.4 663.1,211.6 662.3,213.1 661.5,214.6 660.7,215.8 660.0,216.8 659.2,217.5 658.2,218.2 657.2,218.7 656.2,219.1 655.2,219.3 653.9,219.5 652.5,219.6 651.2,219.7 649.9,219.7 648.2,219.6 646.5,219.5 645.0,219.3 643.5,218.9 641.8,218.3 640.1,217.7 638.8,217.2 637.5,216.9 636.2,216.6 634.9,216.3 633.8,215.9 632.5,215.3 631.1,214.5 629.8,213.7 628.8,213.2 628.0,212.9 627.2,212.7 626.6,212.6 626.0,212.6 625.5,212.6 624.9,212.7 624.4,212.9 623.8,213.2 623.0,213.7 622.0,214.4 620.9,215.2 620.0,215.9 619.0,216.6 617.9,217.5 616.7,218.4 615.6,219.3 614.4,220.5 613.1,221.9 611.7,223.4 610.6,224.7 609.5,225.9 608.4,227.3 607.3,228.7 606.2,230.1 605.2,231.6 604.1,233.5 602.9,235.5 601.9,237.2 600.8,239.0 599.5,241.1 598.3,243.0 597.5,244.3 597.1,244.8 597.0,244.9 596.8,244.9 596.2,245.3 595.1,246.4 593.4,248.1 591.6,249.8 590.0,251.1 588.5,251.9 586.7,252.8 585.1,253.5 583.8,254.3 582.7,255.1 581.8,256.0 580.9,257.1 580.0,258.6 578.9,260.8 577.6,263.8 576.2,267.0 575.0,269.8 573.8,272.4 572.5,275.4 571.2,278.3 570.0,281.1 568.8,283.9 567.5,287.3 566.2,290.7 565.0,293.6 563.8,296.3 562.4,299.4 561.1,302.3 560.0,304.8 559.0,307.0 558.0,309.3 557.1,311.6 556.2,313.6 555.5,315.6 554.7,317.9 553.8,320.1 553.0,321.6 552.0,322.3 550.8,322.6 549.7,322.7 548.8,323.1 548.1,323.6 547.4,324.2 546.8,325.0 546.2,326.1 545.7,327.8 545.0,330.2 544.5,332.3" fill="url(#gl)"/><polygon points="743.7,57.0 743.8,56.9 744.5,56.2 745.4,56.0 746.5,55.9 747.6,55.8 748.8,55.5 750.0,54.8 751.6,53.7 753.2,52.6 754.5,52.0 755.6,51.9 756.7,52.2 757.7,52.6 758.8,53.0 759.9,53.5 761.1,54.2 762.5,54.8 763.8,55.0 765.2,54.5 767.0,53.5 768.7,52.6 770.0,52.0 770.9,52.0 771.7,52.3 772.5,52.8 773.2,53.2 774.1,54.0 775.2,55.1 776.3,56.1 777.5,56.4 779.1,55.7 781.3,54.3 783.4,52.8 785.0,52.0 786.1,52.0 787.0,52.5 787.9,53.2 788.8,53.8 789.8,54.3 791.1,55.1 792.5,55.9 794.0,56.6 795.0,57.0 795.0,97.3 794.0,96.9 792.5,96.2 791.1,95.4 789.8,94.6 788.8,94.0 787.9,93.5 787.0,92.8 786.1,92.3 785.0,92.3 783.4,93.1 781.3,94.6 779.1,96.0 777.5,96.7 776.3,96.4 775.2,95.4 774.1,94.3 773.2,93.5 772.5,93.1 771.7,92.6 770.9,92.3 770.0,92.3 768.7,92.9 767.0,93.8 765.2,94.8 763.8,95.3 762.5,95.1 761.1,94.5 759.9,93.8 758.8,93.3 757.7,92.9 756.7,92.5 755.6,92.2 754.5,92.3 753.2,92.9 751.6,94.0 750.0,95.1 748.8,95.8 747.6,96.1 746.5,96.2 745.4,96.3 744.5,96.5 743.8,97.2 743.7,97.3" fill="#8ebcef"/><polygon points="795.0,57.0 795.8,57.3 798.1,58.1 800.5,59.0 802.5,60.0 804.3,61.3 806.3,62.9 808.3,64.6 810.0,66.2 811.8,68.1 813.9,70.3 815.9,72.6 817.5,74.5 818.8,76.2 820.1,78.0 821.4,80.0 822.5,82.0 823.8,84.7 825.2,88.2 826.6,91.6 827.8,94.2 828.6,96.2 829.5,97.9 830.3,99.4 830.9,100.6 831.5,101.6 832.1,102.5 832.7,103.3 833.2,103.9 833.8,104.4 834.4,104.7 835.1,105.1 835.7,105.7 836.4,106.7 837.2,108.0 838.1,109.4 839.0,110.5 840.0,111.5 841.3,112.6 842.7,113.6 844.0,114.2 845.4,114.6 847.1,114.7 848.8,114.8 850.2,115.0 851.7,115.5 853.3,116.1 855.0,116.8 856.5,117.5 858.2,118.4 860.1,119.5 862.0,120.5 863.5,121.0 864.7,120.6 865.8,119.7 866.8,118.7 867.8,118.0 868.6,117.6 869.5,117.4 870.5,117.2 871.3,117.3 872.2,117.6 873.1,118.1 874.2,118.9 875.2,120.0 876.6,121.8 878.2,124.3 879.9,127.0 881.5,129.2 883.2,131.4 885.3,133.7 887.4,136.0 889.0,138.0 890.4,139.9 891.7,141.9 893.0,143.8 894.0,145.5 894.8,146.9 895.6,148.4 896.3,150.0 897.0,151.8 897.7,154.1 898.6,157.0 899.5,160.2 900.2,163.0 901.1,165.9 902.1,169.3 903.1,172.7 904.0,175.5 904.9,178.1 905.9,180.8 906.9,183.4 907.8,185.5 908.4,187.2 909.1,188.9 909.7,190.6 910.2,192.0 910.8,193.4 911.5,194.9 912.1,196.6 912.8,198.2 913.4,200.4 914.3,203.1 915.2,205.9 916.0,208.2 916.9,210.4 918.1,212.6 919.2,214.9 920.2,217.0 921.3,219.2 922.5,221.8 923.7,224.5 924.7,227.0 925.6,229.8 926.6,233.2 927.6,236.6 928.5,239.5 929.2,242.2 930.0,245.3 930.9,248.2 931.7,250.8 932.6,253.2 933.8,255.9 935.0,258.5 936.0,260.8 936.9,262.9 937.9,265.1 938.8,267.4 939.7,269.5 940.6,271.8 941.5,274.5 942.5,277.2 943.5,279.5 944.4,281.6 945.5,283.7 946.7,286.0 947.7,288.2 948.7,291.1 949.0,292.0 949.0,332.3 948.7,331.4 947.7,328.6 946.7,326.3 945.5,324.0 944.4,321.9 943.5,319.8 942.5,317.5 941.5,314.8 940.6,312.1 939.7,309.8 938.8,307.7 937.9,305.4 936.9,303.2 936.0,301.1 935.0,298.8 933.8,296.2 932.6,293.5 931.7,291.1 930.9,288.5 930.0,285.6 929.2,282.5 928.5,279.8 927.6,276.9 926.6,273.5 925.6,270.1 924.7,267.3 923.7,264.8 922.5,262.1 921.3,259.5 920.2,257.3 919.2,255.2 918.1,252.9 916.9,250.7 916.0,248.6 915.2,246.2 914.3,243.4 913.4,240.7 912.8,238.6 912.1,236.9 911.5,235.2 910.8,233.7 910.2,232.3 909.7,230.9 909.1,229.2 908.4,227.5 907.8,225.8 906.9,223.7 905.9,221.1 904.9,218.4 904.0,215.8 903.1,213.0 902.1,209.6 901.1,206.2 900.2,203.3 899.5,200.5 898.6,197.3 897.7,194.4 897.0,192.1 896.3,190.3 895.6,188.7 894.8,187.2 894.0,185.8 893.0,184.1 891.7,182.2 890.4,180.2 889.0,178.3 887.4,176.3 885.3,174.0 883.2,171.7 881.5,169.6 879.9,167.3 878.2,164.6 876.6,162.1 875.2,160.3 874.2,159.2 873.1,158.4 872.2,157.9 871.3,157.6 870.5,157.5 869.5,157.7 868.6,157.9 867.8,158.3 866.8,159.0 865.8,160.0 864.7,160.9 863.5,161.3 862.0,160.8 860.1,159.8 858.2,158.7 856.5,157.8 855.0,157.1 853.3,156.4 851.7,155.8 850.2,155.3 848.8,155.1 847.1,155.0 845.4,154.9 844.0,154.6 842.7,153.9 841.3,152.9 840.0,151.8 839.0,150.8 838.1,149.7 837.2,148.3 836.4,147.0 835.7,146.0 835.1,145.4 834.4,145.0 833.8,144.7 833.2,144.2 832.7,143.6 832.1,142.8 831.5,141.9 830.9,140.9 830.3,139.7 829.5,138.2 828.6,136.5 827.8,134.6 826.6,131.9 825.2,128.5 823.8,125.0 822.5,122.3 821.4,120.3 820.1,118.3 818.8,116.5 817.5,114.8 815.9,112.9 813.9,110.6 811.8,108.4 810.0,106.5 808.3,104.9 806.3,103.2 804.3,101.6 802.5,100.3 800.5,99.3 798.1,98.4 795.8,97.6 795.0,97.3" fill="url(#gl)"/><polygon points="949.0,292.0 949.8,294.6 950.9,298.1 952.0,301.0 953.0,303.5 954.2,306.1 955.4,308.6 956.5,311.0 957.8,313.5 959.3,316.5 960.7,319.5 962.0,322.2 963.1,325.1 964.3,328.3 965.4,331.6 966.5,334.8 967.6,338.3 969.0,342.5 970.3,346.6 971.5,349.8 972.7,351.9 974.1,353.8 975.4,355.5 976.5,357.2 977.6,359.5 978.8,362.3 979.8,364.8 980.5,366.5 980.5,406.8 979.8,405.1 978.8,402.6 977.6,399.8 976.5,397.6 975.4,395.8 974.1,394.1 972.7,392.2 971.5,390.1 970.3,386.9 969.0,382.8 967.6,378.6 966.5,375.1 965.4,371.9 964.3,368.6 963.1,365.4 962.0,362.6 960.7,359.8 959.3,356.8 957.8,353.8 956.5,351.3 955.4,348.9 954.2,346.4 953.0,343.8 952.0,341.3 950.9,338.4 949.8,334.9 949.0,332.3" fill="#e7d0e8"/>
<clipPath id="ca"><polygon points="45.0,409.5 45.0,387.5 45.3,387.4 45.9,387.4 46.5,387.2 47.0,387.0 47.5,386.7 48.2,386.3 48.9,385.7 49.5,384.8 50.2,383.1 51.0,380.7 51.8,378.1 52.5,376.0 53.2,374.2 53.9,372.2 54.7,370.3 55.5,368.5 56.5,366.5 57.8,364.3 59.0,361.9 60.0,359.8 60.7,357.4 61.4,354.8 62.0,352.1 62.5,349.8 63.0,347.6 63.6,345.4 64.2,343.1 65.0,341.0 66.3,338.8 68.1,336.2 69.9,333.5 71.2,331.0 72.3,328.1 73.3,324.7 74.2,321.3 75.0,318.5 75.7,316.2 76.3,313.9 76.9,311.7 77.5,309.8 78.1,307.7 78.8,305.3 79.4,303.1 80.0,301.5 80.6,300.4 81.2,299.6 81.8,298.9 82.5,298.0 83.3,296.8 84.4,295.3 85.4,293.6 86.2,292.1 86.9,290.5 87.6,288.5 88.2,286.5 88.8,284.6 89.3,282.6 89.9,280.3 90.6,278.0 91.2,275.9 92.1,273.7 93.1,271.1 94.1,268.6 95.0,266.5 95.9,264.6 96.9,262.7 97.9,260.7 98.8,259.0 99.4,257.2 100.1,255.2 100.8,253.3 101.2,251.5 101.6,249.7 101.9,247.7 102.2,245.7 102.6,244.0 103.1,242.5 103.7,241.0 104.4,239.5 105.0,238.1 105.7,236.6 106.4,235.0 107.3,233.3 108.1,231.9 109.1,230.6 110.3,229.1 111.5,227.6 112.5,226.2 113.4,224.7 114.5,223.0 115.5,221.1 116.2,219.4 116.9,217.6 117.6,215.4 118.2,213.2 118.8,211.2 119.4,209.2 120.0,206.8 120.7,204.5 121.2,202.5 121.7,200.6 122.1,198.6 122.6,196.6 123.1,195.0 123.8,193.7 124.7,192.5 125.6,191.3 126.2,190.0 126.7,188.4 127.2,186.4 127.7,184.4 128.1,182.5 128.6,180.5 129.3,178.2 130.0,175.8 130.6,173.8 131.2,171.7 131.9,169.4 132.5,167.1 133.1,165.0 133.7,162.9 134.4,160.6 135.0,158.2 135.6,156.2 136.2,154.4 136.9,152.3 137.5,150.4 138.1,148.8 138.7,147.3 139.3,145.7 140.0,144.2 140.6,143.1 141.3,142.2 142.2,141.4 143.1,140.6 143.8,140.0 144.1,139.4 144.3,138.9 144.6,138.3 145.0,137.5 145.9,136.4 147.1,134.9 148.4,133.3 149.4,131.9 150.1,130.4 150.7,128.7 151.3,127.0 151.9,125.6 152.5,124.4 153.1,123.3 153.7,122.2 154.4,121.2 155.2,120.4 156.2,119.6 157.2,118.8 158.1,118.1 158.9,117.5 159.7,116.8 160.6,116.3 161.2,115.9 161.8,115.7 162.3,115.6 163.0,115.6 163.8,115.8 165.0,116.1 166.6,116.6 168.4,117.2 170.0,117.8 171.7,118.4 173.8,119.2 175.9,120.0 177.5,120.6 178.8,121.0 180.2,121.5 181.4,121.9 182.5,122.2 183.5,122.7 184.4,123.2 185.4,123.8 186.2,124.4 187.1,125.2 188.1,126.2 189.1,127.2 190.0,128.1 190.8,129.0 191.7,130.1 192.6,130.9 193.4,131.2 194.1,130.8 194.8,129.9 195.5,128.8 196.2,127.8 197.1,126.7 198.1,125.4 199.1,124.1 200.0,123.1 200.8,122.4 201.6,121.7 202.4,121.2 203.1,120.6 203.8,120.0 204.5,119.2 205.4,118.5 206.2,117.9 207.5,117.4 209.0,116.8 210.6,116.2 211.9,115.6 212.9,114.8 213.8,113.8 214.7,112.8 215.6,111.9 216.6,111.0 217.8,110.0 219.0,108.9 220.0,108.1 221.1,107.4 222.3,106.7 223.5,106.0 224.4,105.2 225.1,104.4 225.7,103.4 226.3,102.3 226.9,101.2 227.5,100.1 228.2,98.6 229.0,97.0 229.8,95.0 230.6,92.0 231.7,87.9 232.8,83.9 233.8,81.2 234.6,80.3 235.6,80.3 236.6,80.4 237.5,80.0 238.4,78.7 239.3,76.7 240.3,74.5 241.2,72.5 242.4,70.3 243.7,67.6 245.1,64.8 246.2,62.5 247.4,60.3 248.8,58.0 250.1,55.7 251.2,53.8 252.2,52.0 253.2,50.1 254.2,48.1 255.0,46.2 255.8,43.9 256.6,41.1 257.3,38.3 258.0,36.2 258.7,34.8 259.4,33.6 260.1,32.7 260.8,32.0 261.3,31.6 261.8,31.4 262.4,31.3 263.0,31.2 263.6,31.3 264.4,31.4 265.3,31.6 266.2,32.0 267.5,32.7 269.2,33.8 270.9,35.0 272.5,36.2 274.2,37.8 276.1,39.8 278.1,41.8 280.0,43.8 282.0,45.7 284.4,48.1 286.8,50.4 288.8,52.5 290.3,54.5 291.9,56.8 293.5,59.1 295.0,61.2 296.7,63.5 298.7,66.1 300.7,68.7 302.5,71.2 304.3,74.0 306.2,77.2 308.2,80.5 310.0,83.5 311.9,86.6 314.0,90.1 316.1,93.7 318.0,96.8 319.8,99.7 321.9,103.0 323.9,106.3 325.5,109.2 326.9,112.2 328.4,115.4 329.8,118.7 331.0,121.8 332.1,124.9 333.3,128.5 334.4,132.2 335.5,135.5 336.6,138.9 338.0,142.9 339.3,146.9 340.5,150.5 341.7,154.3 343.0,158.6 344.3,163.0 345.5,166.8 346.7,170.4 348.1,174.6 349.4,178.5 350.5,181.8 351.5,184.5 352.4,187.2 353.4,189.8 354.2,192.0 355.1,194.2 356.1,196.5 357.1,198.8 358.0,200.8 358.9,202.6 359.8,204.7 360.8,206.7 361.8,208.2 362.8,209.6 364.1,210.9 365.5,212.2 366.8,213.2 368.2,214.2 369.8,215.1 371.5,216.1 373.0,217.0 374.4,218.3 375.9,220.0 377.4,221.4 378.8,222.0 380.1,221.2 381.7,219.4 383.1,217.5 384.2,216.2 385.0,215.7 385.6,215.5 386.1,215.5 386.8,215.8 387.5,216.2 388.4,217.0 389.4,218.1 390.5,219.5 392.1,221.8 394.1,224.9 396.2,228.1 398.0,230.8 399.5,232.9 401.2,235.1 402.8,237.3 404.2,239.5 405.7,242.0 407.3,245.1 409.0,248.1 410.5,250.8 412.2,253.2 414.2,255.9 416.3,258.5 418.0,260.8 419.5,262.9 421.2,265.2 422.8,267.5 424.2,269.5 425.7,271.5 427.4,273.8 429.1,276.1 430.5,278.2 431.7,280.5 433.0,283.0 434.3,285.7 435.5,288.2 436.9,291.1 438.4,294.5 440.1,298.0 441.5,301.0 442.9,304.0 444.5,307.4 446.1,310.7 447.5,313.5 449.0,316.2 450.6,319.2 452.3,322.0 453.8,324.0 455.2,325.2 456.8,326.1 458.5,327.0 460.0,328.0 461.7,329.6 463.7,331.6 465.7,333.8 467.5,336.0 469.3,338.4 471.4,341.4 473.4,344.5 475.0,347.2 476.3,350.2 477.7,353.6 478.9,356.9 480.0,359.8 481.0,362.3 482.0,365.2 483.0,367.8 483.8,369.8 484.4,371.3 485.0,372.6 485.5,373.8 485.9,374.6 486.2,375.2 486.5,375.5 486.8,375.8 487.1,375.9 487.4,375.9 487.7,375.8 488.1,375.5 488.4,375.3 488.7,375.1 489.1,374.8 489.5,374.3 490.0,373.5 490.8,371.9 491.8,369.6 492.8,367.2 493.8,365.5 494.6,364.4 495.4,363.4 496.4,362.6 497.5,362.2 499.1,362.5 501.2,363.2 503.3,363.8 505.0,364.0 506.3,363.4 507.6,362.4 508.9,361.1 510.0,359.8 511.2,358.0 512.5,355.7 513.8,353.2 515.0,351.0 516.1,348.8 517.4,346.3 518.7,343.6 520.0,341.0 521.7,337.9 523.8,334.1 525.9,330.3 527.5,327.2 528.6,324.7 529.6,322.0 530.4,319.5 531.2,317.2 532.1,315.1 533.0,312.7 534.0,310.5 535.0,308.5 536.2,306.6 537.8,304.6 539.3,302.7 540.5,301.0 541.4,299.5 542.3,297.8 543.1,296.1 543.8,294.5 544.4,292.5 545.0,289.9 545.7,287.5 546.2,285.8 546.8,284.7 547.4,283.9 548.1,283.3 548.8,282.8 549.7,282.4 550.8,282.3 552.0,282.0 553.0,281.2 553.8,279.8 554.7,277.6 555.5,275.3 556.2,273.2 557.1,271.3 558.0,269.0 559.0,266.7 560.0,264.5 561.1,262.0 562.4,259.1 563.8,256.0 565.0,253.2 566.2,250.4 567.5,247.0 568.8,243.6 570.0,240.8 571.2,238.0 572.5,235.1 573.8,232.1 575.0,229.5 576.2,226.7 577.6,223.5 578.9,220.5 580.0,218.2 580.9,216.8 581.8,215.7 582.7,214.8 583.8,214.0 585.1,213.2 586.7,212.5 588.5,211.6 590.0,210.8 591.6,209.5 593.4,207.8 595.1,206.1 596.2,205.0 596.8,204.6 597.0,204.6 597.1,204.5 597.5,204.0 598.3,202.7 599.5,200.8 600.8,198.7 601.9,196.9 602.9,195.2 604.1,193.2 605.2,191.3 606.2,189.8 607.3,188.4 608.4,187.0 609.5,185.6 610.6,184.4 611.7,183.1 613.1,181.6 614.4,180.2 615.6,179.0 616.7,178.1 617.9,177.2 619.0,176.3 620.0,175.6 620.9,174.9 622.0,174.1 623.0,173.4 623.8,172.9 624.4,172.6 624.9,172.4 625.5,172.3 626.0,172.2 626.6,172.3 627.2,172.4 628.0,172.6 628.8,172.9 629.8,173.4 631.1,174.2 632.5,175.0 633.8,175.6 634.9,176.0 636.2,176.3 637.5,176.6 638.8,176.9 640.1,177.4 641.8,178.0 643.5,178.6 645.0,179.0 646.5,179.2 648.2,179.3 649.9,179.4 651.2,179.4 652.5,179.3 653.9,179.2 655.2,179.0 656.2,178.8 657.2,178.4 658.2,177.9 659.2,177.2 660.0,176.5 660.7,175.5 661.5,174.3 662.3,172.8 663.1,171.2 664.1,169.1 665.2,166.4 666.4,163.6 667.5,161.2 668.5,159.1 669.7,156.8 670.9,154.7 671.9,153.1 672.9,152.1 674.0,151.3 675.1,150.5 676.2,149.6 677.7,148.1 679.5,146.1 681.2,144.1 682.5,142.5 683.3,141.3 683.9,140.2 684.5,139.1 685.0,138.0 685.6,136.6 686.2,134.8 686.8,133.0 687.5,131.8 688.3,131.0 689.3,130.5 690.3,130.0 691.2,129.2 692.1,127.9 693.1,126.1 694.0,124.3 695.0,123.0 696.1,122.2 697.4,121.7 698.8,121.2 700.0,120.5 701.2,119.5 702.5,118.1 703.8,116.7 705.0,115.5 706.1,114.3 707.4,112.9 708.7,111.6 710.0,110.5 711.6,109.6 713.7,108.8 715.8,107.9 717.5,107.0 719.1,105.9 720.8,104.4 722.4,102.9 723.8,101.5 725.0,99.9 726.4,98.0 727.7,96.0 728.8,94.2 729.8,92.4 730.8,90.3 731.8,88.3 732.5,86.8 732.9,85.5 733.1,84.4 733.4,83.4 733.8,82.5 734.5,81.7 735.6,80.9 736.6,80.0 737.5,78.8 738.2,76.7 738.8,74.0 739.5,71.1 740.0,68.8 740.5,66.5 741.0,64.0 741.5,61.7 742.0,60.0 742.5,58.8 743.1,57.7 743.8,56.9 744.5,56.2 745.4,56.0 746.5,55.9 747.6,55.8 748.8,55.5 750.0,54.8 751.6,53.7 753.2,52.6 754.5,52.0 755.6,51.9 756.7,52.2 757.7,52.6 758.8,53.0 759.9,53.5 761.1,54.2 762.5,54.8 763.8,55.0 765.2,54.5 767.0,53.5 768.7,52.6 770.0,52.0 770.9,52.0 771.7,52.3 772.5,52.8 773.2,53.2 774.1,54.0 775.2,55.1 776.3,56.1 777.5,56.4 779.1,55.7 781.3,54.3 783.4,52.8 785.0,52.0 786.1,52.0 787.0,52.5 787.9,53.2 788.8,53.8 789.8,54.3 791.1,55.1 792.5,55.9 794.0,56.6 795.8,57.3 798.1,58.1 800.5,59.0 802.5,60.0 804.3,61.3 806.3,62.9 808.3,64.6 810.0,66.2 811.8,68.1 813.9,70.3 815.9,72.6 817.5,74.5 818.8,76.2 820.1,78.0 821.4,80.0 822.5,82.0 823.8,84.7 825.2,88.2 826.6,91.6 827.8,94.2 828.6,96.2 829.5,97.9 830.3,99.4 830.9,100.6 831.5,101.6 832.1,102.5 832.7,103.3 833.2,103.9 833.8,104.4 834.4,104.7 835.1,105.1 835.7,105.7 836.4,106.7 837.2,108.0 838.1,109.4 839.0,110.5 840.0,111.5 841.3,112.6 842.7,113.6 844.0,114.2 845.4,114.6 847.1,114.7 848.8,114.8 850.2,115.0 851.7,115.5 853.3,116.1 855.0,116.8 856.5,117.5 858.2,118.4 860.1,119.5 862.0,120.5 863.5,121.0 864.7,120.6 865.8,119.7 866.8,118.7 867.8,118.0 868.6,117.6 869.5,117.4 870.5,117.2 871.3,117.3 872.2,117.6 873.1,118.1 874.2,118.9 875.2,120.0 876.6,121.8 878.2,124.3 879.9,127.0 881.5,129.2 883.2,131.4 885.3,133.7 887.4,136.0 889.0,138.0 890.4,139.9 891.7,141.9 893.0,143.8 894.0,145.5 894.8,146.9 895.6,148.4 896.3,150.0 897.0,151.8 897.7,154.1 898.6,157.0 899.5,160.2 900.2,163.0 901.1,165.9 902.1,169.3 903.1,172.7 904.0,175.5 904.9,178.1 905.9,180.8 906.9,183.4 907.8,185.5 908.4,187.2 909.1,188.9 909.7,190.6 910.2,192.0 910.8,193.4 911.5,194.9 912.1,196.6 912.8,198.2 913.4,200.4 914.3,203.1 915.2,205.9 916.0,208.2 916.9,210.4 918.1,212.6 919.2,214.9 920.2,217.0 921.3,219.2 922.5,221.8 923.7,224.5 924.7,227.0 925.6,229.8 926.6,233.2 927.6,236.6 928.5,239.5 929.2,242.2 930.0,245.3 930.9,248.2 931.7,250.8 932.6,253.2 933.8,255.9 935.0,258.5 936.0,260.8 936.9,262.9 937.9,265.1 938.8,267.4 939.7,269.5 940.6,271.8 941.5,274.5 942.5,277.2 943.5,279.5 944.4,281.6 945.5,283.7 946.7,286.0 947.7,288.2 948.7,291.1 949.8,294.6 950.9,298.1 952.0,301.0 953.0,303.5 954.2,306.1 955.4,308.6 956.5,311.0 957.8,313.5 959.3,316.5 960.7,319.5 962.0,322.2 963.1,325.1 964.3,328.3 965.4,331.6 966.5,334.8 967.6,338.3 969.0,342.5 970.3,346.6 971.5,349.8 972.7,351.9 974.1,353.8 975.4,355.5 976.5,357.2 977.6,359.5 978.8,362.3 979.8,364.8 980.5,366.5 980.5,409.5"/></clipPath><clipPath id="cf"><polygon points="45.0,409.5 45.0,409.5 45.3,409.5 45.9,409.5 46.5,409.5 47.0,409.5 47.5,409.5 48.2,409.5 48.9,409.5 49.5,409.5 50.2,409.5 51.0,409.5 51.8,409.5 52.5,409.5 53.2,409.5 53.9,409.5 54.7,409.5 55.5,408.8 56.5,406.8 57.8,404.6 59.0,402.2 60.0,400.1 60.7,397.7 61.4,395.1 62.0,392.4 62.5,390.1 63.0,387.9 63.6,385.7 64.2,383.4 65.0,381.3 66.3,379.1 68.1,376.5 69.9,373.8 71.2,371.3 72.3,368.4 73.3,365.0 74.2,361.6 75.0,358.8 75.7,356.5 76.3,354.2 76.9,352.0 77.5,350.1 78.1,348.0 78.8,345.6 79.4,343.4 80.0,341.8 80.6,340.7 81.2,339.9 81.8,339.2 82.5,338.3 83.3,337.1 84.4,335.6 85.4,333.9 86.2,332.4 86.9,330.8 87.6,328.8 88.2,326.8 88.8,324.9 89.3,322.9 89.9,320.6 90.6,318.3 91.2,316.2 92.1,314.0 93.1,311.4 94.1,308.9 95.0,306.8 95.9,304.9 96.9,303.0 97.9,301.0 98.8,299.3 99.4,297.5 100.1,295.6 100.8,293.6 101.2,291.8 101.6,290.0 101.9,288.0 102.2,286.0 102.6,284.3 103.1,282.8 103.7,281.3 104.4,279.8 105.0,278.4 105.7,276.9 106.4,275.3 107.3,273.6 108.1,272.2 109.1,270.9 110.3,269.4 111.5,267.9 112.5,266.6 113.4,265.0 114.5,263.3 115.5,261.4 116.2,259.7 116.9,257.9 117.6,255.7 118.2,253.5 118.8,251.6 119.4,249.5 120.0,247.1 120.7,244.8 121.2,242.8 121.7,240.9 122.1,238.9 122.6,236.9 123.1,235.3 123.8,234.0 124.7,232.8 125.6,231.6 126.2,230.3 126.7,228.7 127.2,226.7 127.7,224.7 128.1,222.8 128.6,220.8 129.3,218.5 130.0,216.1 130.6,214.1 131.2,212.0 131.9,209.7 132.5,207.4 133.1,205.3 133.7,203.2 134.4,200.9 135.0,198.5 135.6,196.6 136.2,194.7 136.9,192.6 137.5,190.7 138.1,189.1 138.7,187.6 139.3,186.0 140.0,184.5 140.6,183.4 141.3,182.5 142.2,181.7 143.1,180.9 143.8,180.3 144.1,179.7 144.3,179.2 144.6,178.6 145.0,177.8 145.9,176.7 147.1,175.2 148.4,173.6 149.4,172.2 150.1,170.7 150.7,169.0 151.3,167.3 151.9,165.9 152.5,164.7 153.1,163.6 153.7,162.5 154.4,161.6 155.2,160.7 156.2,159.9 157.2,159.1 158.1,158.4 158.9,157.8 159.7,157.1 160.6,156.6 161.2,156.2 161.8,156.0 162.3,155.9 163.0,155.9 163.8,156.1 165.0,156.4 166.6,156.9 168.4,157.5 170.0,158.1 171.7,158.7 173.8,159.5 175.9,160.3 177.5,160.9 178.8,161.3 180.2,161.8 181.4,162.2 182.5,162.6 183.5,163.0 184.4,163.5 185.4,164.1 186.2,164.7 187.1,165.5 188.1,166.5 189.1,167.5 190.0,168.4 190.8,169.3 191.7,170.4 192.6,171.2 193.4,171.6 194.1,171.1 194.8,170.2 195.5,169.1 196.2,168.1 197.1,167.0 198.1,165.7 199.1,164.4 200.0,163.4 200.8,162.7 201.6,162.0 202.4,161.5 203.1,160.9 203.8,160.3 204.5,159.5 205.4,158.8 206.2,158.2 207.5,157.7 209.0,157.1 210.6,156.5 211.9,155.9 212.9,155.1 213.8,154.1 214.7,153.1 215.6,152.2 216.6,151.3 217.8,150.3 219.0,149.2 220.0,148.4 221.1,147.7 222.3,147.0 223.5,146.3 224.4,145.6 225.1,144.7 225.7,143.7 226.3,142.6 226.9,141.6 227.5,140.4 228.2,138.9 229.0,137.3 229.8,135.3 230.6,132.3 231.7,128.2 232.8,124.2 233.8,121.5 234.6,120.6 235.6,120.6 236.6,120.7 237.5,120.3 238.4,119.0 239.3,117.0 240.3,114.8 241.2,112.8 242.4,110.6 243.7,107.9 245.1,105.1 246.2,102.8 247.4,100.6 248.8,98.3 250.1,96.0 251.2,94.0 252.2,92.3 253.2,90.4 254.2,88.4 255.0,86.5 255.8,84.2 256.6,81.4 257.3,78.6 258.0,76.5 258.7,75.1 259.4,73.9 260.1,73.0 260.8,72.3 261.3,71.9 261.8,71.7 262.4,71.6 263.0,71.5 263.6,71.6 264.4,71.7 265.3,71.9 266.2,72.3 267.5,73.0 269.2,74.1 270.9,75.3 272.5,76.5 274.2,78.1 276.1,80.1 278.1,82.1 280.0,84.0 282.0,86.0 284.4,88.4 286.8,90.7 288.8,92.8 290.3,94.8 291.9,97.1 293.5,99.4 295.0,101.5 296.7,103.8 298.7,106.4 300.7,109.0 302.5,111.5 304.3,114.3 306.2,117.5 308.2,120.8 310.0,123.8 311.9,126.9 314.0,130.4 316.1,134.0 318.0,137.1 319.8,140.0 321.9,143.3 323.9,146.6 325.5,149.6 326.9,152.5 328.4,155.7 329.8,159.0 331.0,162.1 332.1,165.2 333.3,168.8 334.4,172.5 335.5,175.8 336.6,179.2 338.0,183.2 339.3,187.2 340.5,190.8 341.7,194.6 343.0,198.9 344.3,203.3 345.5,207.1 346.7,210.7 348.1,214.9 349.4,218.8 350.5,222.1 351.5,224.8 352.4,227.5 353.4,230.1 354.2,232.3 355.1,234.5 356.1,236.8 357.1,239.1 358.0,241.1 358.9,242.9 359.8,245.0 360.8,247.0 361.8,248.6 362.8,249.9 364.1,251.2 365.5,252.5 366.8,253.6 368.2,254.5 369.8,255.4 371.5,256.4 373.0,257.3 374.4,258.6 375.9,260.3 377.4,261.7 378.8,262.3 380.1,261.5 381.7,259.7 383.1,257.8 384.2,256.6 385.0,256.0 385.6,255.8 386.1,255.8 386.8,256.1 387.5,256.5 388.4,257.3 389.4,258.4 390.5,259.8 392.1,262.1 394.1,265.2 396.2,268.4 398.0,271.1 399.5,273.2 401.2,275.4 402.8,277.6 404.2,279.8 405.7,282.3 407.3,285.4 409.0,288.4 410.5,291.1 412.2,293.5 414.2,296.2 416.3,298.8 418.0,301.1 419.5,303.2 421.2,305.5 422.8,307.8 424.2,309.8 425.7,311.8 427.4,314.1 429.1,316.4 430.5,318.6 431.7,320.8 433.0,323.3 434.3,326.0 435.5,328.6 436.9,331.4 438.4,334.8 440.1,338.3 441.5,341.3 442.9,344.3 444.5,347.7 446.1,351.0 447.5,353.8 449.0,356.5 450.6,359.5 452.3,362.3 453.8,364.3 455.2,365.5 456.8,366.4 458.5,367.3 460.0,368.3 461.7,369.9 463.7,371.9 465.7,374.1 467.5,376.3 469.3,378.7 471.4,381.7 473.4,384.8 475.0,387.6 476.3,390.5 477.7,393.9 478.9,397.2 480.0,400.1 481.0,402.6 482.0,405.5 483.0,408.1 483.8,409.5 484.4,409.5 485.0,409.5 485.5,409.5 485.9,409.5 486.2,409.5 486.5,409.5 486.8,409.5 487.1,409.5 487.4,409.5 487.7,409.5 488.1,409.5 488.4,409.5 488.7,409.5 489.1,409.5 489.5,409.5 490.0,409.5 490.8,409.5 491.8,409.5 492.8,407.5 493.8,405.8 494.6,404.7 495.4,403.7 496.4,402.9 497.5,402.6 499.1,402.8 501.2,403.5 503.3,404.1 505.0,404.3 506.3,403.7 507.6,402.7 508.9,401.4 510.0,400.1 511.2,398.3 512.5,396.0 513.8,393.5 515.0,391.3 516.1,389.1 517.4,386.6 518.7,383.9 520.0,381.3 521.7,378.2 523.8,374.4 525.9,370.6 527.5,367.6 528.6,365.0 529.6,362.3 530.4,359.8 531.2,357.6 532.1,355.4 533.0,353.0 534.0,350.8 535.0,348.8 536.2,346.9 537.8,344.9 539.3,343.0 540.5,341.3 541.4,339.8 542.3,338.1 543.1,336.4 543.8,334.8 544.4,332.8 545.0,330.2 545.7,327.8 546.2,326.1 546.8,325.0 547.4,324.2 548.1,323.6 548.8,323.1 549.7,322.7 550.8,322.6 552.0,322.3 553.0,321.6 553.8,320.1 554.7,317.9 555.5,315.6 556.2,313.6 557.1,311.6 558.0,309.3 559.0,307.0 560.0,304.8 561.1,302.3 562.4,299.4 563.8,296.3 565.0,293.6 566.2,290.7 567.5,287.3 568.8,283.9 570.0,281.1 571.2,278.3 572.5,275.4 573.8,272.4 575.0,269.8 576.2,267.0 577.6,263.8 578.9,260.8 580.0,258.6 580.9,257.1 581.8,256.0 582.7,255.1 583.8,254.3 585.1,253.5 586.7,252.8 588.5,251.9 590.0,251.1 591.6,249.8 593.4,248.1 595.1,246.4 596.2,245.3 596.8,244.9 597.0,244.9 597.1,244.8 597.5,244.3 598.3,243.0 599.5,241.1 600.8,239.0 601.9,237.2 602.9,235.5 604.1,233.5 605.2,231.6 606.2,230.1 607.3,228.7 608.4,227.3 609.5,225.9 610.6,224.7 611.7,223.4 613.1,221.9 614.4,220.5 615.6,219.3 616.7,218.4 617.9,217.5 619.0,216.6 620.0,215.9 620.9,215.2 622.0,214.4 623.0,213.7 623.8,213.2 624.4,212.9 624.9,212.7 625.5,212.6 626.0,212.6 626.6,212.6 627.2,212.7 628.0,212.9 628.8,213.2 629.8,213.7 631.1,214.5 632.5,215.3 633.8,215.9 634.9,216.3 636.2,216.6 637.5,216.9 638.8,217.2 640.1,217.7 641.8,218.3 643.5,218.9 645.0,219.3 646.5,219.5 648.2,219.6 649.9,219.7 651.2,219.7 652.5,219.6 653.9,219.5 655.2,219.3 656.2,219.1 657.2,218.7 658.2,218.2 659.2,217.5 660.0,216.8 660.7,215.8 661.5,214.6 662.3,213.1 663.1,211.6 664.1,209.4 665.2,206.7 666.4,203.9 667.5,201.6 668.5,199.4 669.7,197.1 670.9,195.0 671.9,193.4 672.9,192.4 674.0,191.6 675.1,190.8 676.2,189.9 677.7,188.4 679.5,186.4 681.2,184.4 682.5,182.8 683.3,181.6 683.9,180.5 684.5,179.4 685.0,178.3 685.6,176.9 686.2,175.1 686.8,173.3 687.5,172.1 688.3,171.3 689.3,170.8 690.3,170.3 691.2,169.6 692.1,168.2 693.1,166.4 694.0,164.6 695.0,163.3 696.1,162.5 697.4,162.0 698.8,161.5 700.0,160.8 701.2,159.8 702.5,158.4 703.8,157.0 705.0,155.8 706.1,154.6 707.4,153.2 708.7,151.9 710.0,150.8 711.6,149.9 713.7,149.1 715.8,148.2 717.5,147.3 719.1,146.2 720.8,144.7 722.4,143.2 723.8,141.8 725.0,140.2 726.4,138.3 727.7,136.3 728.8,134.6 729.8,132.7 730.8,130.6 731.8,128.6 732.5,127.0 732.9,125.8 733.1,124.7 733.4,123.7 733.8,122.8 734.5,122.0 735.6,121.2 736.6,120.3 737.5,119.0 738.2,117.0 738.8,114.3 739.5,111.4 740.0,109.0 740.5,106.8 741.0,104.3 741.5,102.0 742.0,100.3 742.5,99.1 743.1,98.0 743.8,97.2 744.5,96.5 745.4,96.3 746.5,96.2 747.6,96.1 748.8,95.8 750.0,95.1 751.6,94.0 753.2,92.9 754.5,92.3 755.6,92.2 756.7,92.5 757.7,92.9 758.8,93.3 759.9,93.8 761.1,94.5 762.5,95.1 763.8,95.3 765.2,94.8 767.0,93.8 768.7,92.9 770.0,92.3 770.9,92.3 771.7,92.6 772.5,93.1 773.2,93.5 774.1,94.3 775.2,95.4 776.3,96.4 777.5,96.7 779.1,96.0 781.3,94.6 783.4,93.1 785.0,92.3 786.1,92.3 787.0,92.8 787.9,93.5 788.8,94.0 789.8,94.6 791.1,95.4 792.5,96.2 794.0,96.9 795.8,97.6 798.1,98.4 800.5,99.3 802.5,100.3 804.3,101.6 806.3,103.2 808.3,104.9 810.0,106.5 811.8,108.4 813.9,110.6 815.9,112.9 817.5,114.8 818.8,116.5 820.1,118.3 821.4,120.3 822.5,122.3 823.8,125.0 825.2,128.5 826.6,131.9 827.8,134.6 828.6,136.5 829.5,138.2 830.3,139.7 830.9,140.9 831.5,141.9 832.1,142.8 832.7,143.6 833.2,144.2 833.8,144.7 834.4,145.0 835.1,145.4 835.7,146.0 836.4,147.0 837.2,148.3 838.1,149.7 839.0,150.8 840.0,151.8 841.3,152.9 842.7,153.9 844.0,154.6 845.4,154.9 847.1,155.0 848.8,155.1 850.2,155.3 851.7,155.8 853.3,156.4 855.0,157.1 856.5,157.8 858.2,158.7 860.1,159.8 862.0,160.8 863.5,161.3 864.7,160.9 865.8,160.0 866.8,159.0 867.8,158.3 868.6,157.9 869.5,157.7 870.5,157.5 871.3,157.6 872.2,157.9 873.1,158.4 874.2,159.2 875.2,160.3 876.6,162.1 878.2,164.6 879.9,167.3 881.5,169.6 883.2,171.7 885.3,174.0 887.4,176.3 889.0,178.3 890.4,180.2 891.7,182.2 893.0,184.1 894.0,185.8 894.8,187.2 895.6,188.7 896.3,190.3 897.0,192.1 897.7,194.4 898.6,197.3 899.5,200.5 900.2,203.3 901.1,206.2 902.1,209.6 903.1,213.0 904.0,215.8 904.9,218.4 905.9,221.1 906.9,223.7 907.8,225.8 908.4,227.5 909.1,229.2 909.7,230.9 910.2,232.3 910.8,233.7 911.5,235.2 912.1,236.9 912.8,238.6 913.4,240.7 914.3,243.4 915.2,246.2 916.0,248.6 916.9,250.7 918.1,252.9 919.2,255.2 920.2,257.3 921.3,259.5 922.5,262.1 923.7,264.8 924.7,267.3 925.6,270.1 926.6,273.5 927.6,276.9 928.5,279.8 929.2,282.5 930.0,285.6 930.9,288.5 931.7,291.1 932.6,293.5 933.8,296.2 935.0,298.8 936.0,301.1 936.9,303.2 937.9,305.4 938.8,307.7 939.7,309.8 940.6,312.1 941.5,314.8 942.5,317.5 943.5,319.8 944.4,321.9 945.5,324.0 946.7,326.3 947.7,328.6 948.7,331.4 949.8,334.9 950.9,338.4 952.0,341.3 953.0,343.8 954.2,346.4 955.4,348.9 956.5,351.3 957.8,353.8 959.3,356.8 960.7,359.8 962.0,362.6 963.1,365.4 964.3,368.6 965.4,371.9 966.5,375.1 967.6,378.6 969.0,382.8 970.3,386.9 971.5,390.1 972.7,392.2 974.1,394.1 975.4,395.8 976.5,397.6 977.6,399.8 978.8,402.6 979.8,405.1 980.5,406.8 980.5,409.5"/></clipPath>
<g clip-path="url(#ca)" stroke="#000" stroke-opacity="0.02" stroke-width="1" stroke-dasharray="5,5" shape-rendering="crispEdges"><line x1="45" x2="992" y1="385.5" y2="385.5"/><line x1="45" x2="992" y1="362.5" y2="362.5"/><line x1="45" x2="992" y1="338.5" y2="338.5"/><line x1="45" x2="992" y1="315.5" y2="315.5"/><line x1="45" x2="992" y1="291.5" y2="291.5"/><line x1="45" x2="992" y1="268.5" y2="268.5"/><line x1="45" x2="992" y1="244.5" y2="244.5"/><line x1="45" x2="992" y1="221.5" y2="221.5"/><line x1="45" x2="992" y1="197.5" y2="197.5"/><line x1="45" x2="992" y1="174.5" y2="174.5"/><line x1="45" x2="992" y1="150.5" y2="150.5"/><line x1="45" x2="992" y1="127.5" y2="127.5"/><line x1="45" x2="992" y1="103.5" y2="103.5"/><line x1="45" x2="992" y1="80.5" y2="80.5"/><line x1="45" x2="992" y1="56.5" y2="56.5"/><line x1="45" x2="992" y1="33.5" y2="33.5"/></g>
<g clip-path="url(#cf)" stroke="#1a001a" stroke-width="1" stroke-dasharray="5,5" shape-rendering="crispEdges"><line x1="45" x2="992" y1="385.5" y2="385.5" stroke-opacity="0.020"/><line x1="45" x2="992" y1="362.5" y2="362.5" stroke-opacity="0.025"/><line x1="45" x2="992" y1="338.5" y2="338.5" stroke-opacity="0.034"/><line x1="45" x2="992" y1="315.5" y2="315.5" stroke-opacity="0.043"/><line x1="45" x2="992" y1="291.5" y2="291.5" stroke-opacity="0.052"/><line x1="45" x2="992" y1="268.5" y2="268.5" stroke-opacity="0.060"/><line x1="45" x2="992" y1="244.5" y2="244.5" stroke-opacity="0.069"/><line x1="45" x2="992" y1="221.5" y2="221.5" stroke-opacity="0.078"/><line x1="45" x2="992" y1="197.5" y2="197.5" stroke-opacity="0.087"/><line x1="45" x2="992" y1="174.5" y2="174.5" stroke-opacity="0.095"/><line x1="45" x2="992" y1="150.5" y2="150.5" stroke-opacity="0.104"/><line x1="45" x2="992" y1="127.5" y2="127.5" stroke-opacity="0.112"/><line x1="45" x2="992" y1="103.5" y2="103.5" stroke-opacity="0.121"/><line x1="45" x2="992" y1="80.5" y2="80.5" stroke-opacity="0.130"/><line x1="45" x2="992" y1="56.5" y2="56.5" stroke-opacity="0.139"/><line x1="45" x2="992" y1="33.5" y2="33.5" stroke-opacity="0.147"/></g>
<polyline points="45.0,387.5 45.3,387.4 45.9,387.4 46.5,387.2 47.0,387.0 47.5,386.7 48.2,386.3 48.9,385.7 49.5,384.8 50.2,383.1 51.0,380.7 51.8,378.1 52.5,376.0 53.2,374.2 53.9,372.2 54.7,370.3 55.5,368.5 56.5,366.5 57.8,364.3 59.0,361.9 60.0,359.8 60.7,357.4 61.4,354.8 62.0,352.1 62.5,349.8 63.0,347.6 63.6,345.4 64.2,343.1 65.0,341.0 66.3,338.8 68.1,336.2 69.9,333.5 71.2,331.0 72.3,328.1 73.3,324.7 74.2,321.3 75.0,318.5 75.7,316.2 76.3,313.9 76.9,311.7 77.5,309.8 78.1,307.7 78.8,305.3 79.4,303.1 80.0,301.5 80.6,300.4 81.2,299.6 81.8,298.9 82.5,298.0 83.3,296.8 84.4,295.3 85.4,293.6 86.2,292.1 86.9,290.5 87.6,288.5 88.2,286.5 88.8,284.6 89.3,282.6 89.9,280.3 90.6,278.0 91.2,275.9 92.1,273.7 93.1,271.1 94.1,268.6 95.0,266.5 95.9,264.6 96.9,262.7 97.9,260.7 98.8,259.0 99.4,257.2 100.1,255.2 100.8,253.3 101.2,251.5 101.6,249.7 101.9,247.7 102.2,245.7 102.6,244.0 103.1,242.5 103.7,241.0 104.4,239.5 105.0,238.1 105.7,236.6 106.4,235.0 107.3,233.3 108.1,231.9 109.1,230.6 110.3,229.1 111.5,227.6 112.5,226.2 113.4,224.7 114.5,223.0 115.5,221.1 116.2,219.4 116.9,217.6 117.6,215.4 118.2,213.2 118.8,211.2 119.4,209.2 120.0,206.8 120.7,204.5 121.2,202.5 121.7,200.6 122.1,198.6 122.6,196.6 123.1,195.0 123.8,193.7 124.7,192.5 125.6,191.3 126.2,190.0 126.7,188.4 127.2,186.4 127.7,184.4 128.1,182.5 128.6,180.5 129.3,178.2 130.0,175.8 130.6,173.8 131.2,171.7 131.9,169.4 132.5,167.1 133.1,165.0 133.7,162.9 134.4,160.6 135.0,158.2 135.6,156.2 136.2,154.4 136.9,152.3 137.5,150.4 138.1,148.8 138.7,147.3 139.3,145.7 140.0,144.2 140.6,143.1 141.3,142.2 142.2,141.4 143.1,140.6 143.8,140.0 144.1,139.4 144.3,138.9 144.6,138.3 145.0,137.5 145.9,136.4 147.1,134.9 148.4,133.3 149.4,131.9 150.1,130.4 150.7,128.7 151.3,127.0 151.9,125.6 152.5,124.4 153.1,123.3 153.7,122.2 154.4,121.2 155.2,120.4 156.2,119.6 157.2,118.8 158.1,118.1 158.9,117.5 159.7,116.8 160.6,116.3 161.2,115.9 161.8,115.7 162.3,115.6 163.0,115.6 163.8,115.8 165.0,116.1 166.6,116.6 168.4,117.2 170.0,117.8 171.7,118.4 173.8,119.2 175.9,120.0 177.5,120.6 178.8,121.0 180.2,121.5 181.4,121.9 182.5,122.2 183.5,122.7 184.4,123.2 185.4,123.8 186.2,124.4 187.1,125.2 188.1,126.2 189.1,127.2 190.0,128.1 190.8,129.0 191.7,130.1 192.6,130.9 193.4,131.2 194.1,130.8 194.8,129.9 195.5,128.8 196.2,127.8 197.1,126.7 198.1,125.4 199.1,124.1 200.0,123.1 200.8,122.4 201.6,121.7 202.4,121.2 203.1,120.6 203.8,120.0 204.5,119.2 205.4,118.5 206.2,117.9 207.5,117.4 209.0,116.8 210.6,116.2 211.9,115.6 212.9,114.8 213.8,113.8 214.7,112.8 215.6,111.9 216.6,111.0 217.8,110.0 219.0,108.9 220.0,108.1 221.1,107.4 222.3,106.7 223.5,106.0 224.4,105.2 225.1,104.4 225.7,103.4 226.3,102.3 226.9,101.2 227.5,100.1 228.2,98.6 229.0,97.0 229.8,95.0 230.6,92.0 231.7,87.9 232.8,83.9 233.8,81.2 234.6,80.3 235.6,80.3 236.6,80.4 237.5,80.0 238.4,78.7 239.3,76.7 240.3,74.5 241.2,72.5 242.4,70.3 243.7,67.6 245.1,64.8 246.2,62.5 247.4,60.3 248.8,58.0 250.1,55.7 251.2,53.8 252.2,52.0 253.2,50.1 254.2,48.1 255.0,46.2 255.8,43.9 256.6,41.1 257.3,38.3 258.0,36.2 258.7,34.8 259.4,33.6 260.1,32.7 260.8,32.0 261.3,31.6 261.8,31.4 262.4,31.3 263.0,31.2 263.6,31.3 264.4,31.4 265.3,31.6 266.2,32.0 267.5,32.7 269.2,33.8 270.9,35.0 272.5,36.2 274.2,37.8 276.1,39.8 278.1,41.8 280.0,43.8 282.0,45.7 284.4,48.1 286.8,50.4 288.8,52.5 290.3,54.5 291.9,56.8 293.5,59.1 295.0,61.2 296.7,63.5 298.7,66.1 300.7,68.7 302.5,71.2 304.3,74.0 306.2,77.2 308.2,80.5 310.0,83.5 311.9,86.6 314.0,90.1 316.1,93.7 318.0,96.8 319.8,99.7 321.9,103.0 323.9,106.3 325.5,109.2 326.9,112.2 328.4,115.4 329.8,118.7 331.0,121.8 332.1,124.9 333.3,128.5 334.4,132.2 335.5,135.5 336.6,138.9 338.0,142.9 339.3,146.9 340.5,150.5 341.7,154.3 343.0,158.6 344.3,163.0 345.5,166.8 346.7,170.4 348.1,174.6 349.4,178.5 350.5,181.8 351.5,184.5 352.4,187.2 353.4,189.8 354.2,192.0 355.1,194.2 356.1,196.5 357.1,198.8 358.0,200.8 358.9,202.6 359.8,204.7 360.8,206.7 361.8,208.2 362.8,209.6 364.1,210.9 365.5,212.2 366.8,213.2 368.2,214.2 369.8,215.1 371.5,216.1 373.0,217.0 374.4,218.3 375.9,220.0 377.4,221.4 378.8,222.0 380.1,221.2 381.7,219.4 383.1,217.5 384.2,216.2 385.0,215.7 385.6,215.5 386.1,215.5 386.8,215.8 387.5,216.2 388.4,217.0 389.4,218.1 390.5,219.5 392.1,221.8 394.1,224.9 396.2,228.1 398.0,230.8 399.5,232.9 401.2,235.1 402.8,237.3 404.2,239.5 405.7,242.0 407.3,245.1 409.0,248.1 410.5,250.8 412.2,253.2 414.2,255.9 416.3,258.5 418.0,260.8 419.5,262.9 421.2,265.2 422.8,267.5 424.2,269.5 425.7,271.5 427.4,273.8 429.1,276.1 430.5,278.2 431.7,280.5 433.0,283.0 434.3,285.7 435.5,288.2 436.9,291.1 438.4,294.5 440.1,298.0 441.5,301.0 442.9,304.0 444.5,307.4 446.1,310.7 447.5,313.5 449.0,316.2 450.6,319.2 452.3,322.0 453.8,324.0 455.2,325.2 456.8,326.1 458.5,327.0 460.0,328.0 461.7,329.6 463.7,331.6 465.7,333.8 467.5,336.0 469.3,338.4 471.4,341.4 473.4,344.5 475.0,347.2 476.3,350.2 477.7,353.6 478.9,356.9 480.0,359.8 481.0,362.3 482.0,365.2 483.0,367.8 483.8,369.8 484.4,371.3 485.0,372.6 485.5,373.8 485.9,374.6 486.2,375.2 486.5,375.5 486.8,375.8 487.1,375.9 487.4,375.9 487.7,375.8 488.1,375.5 488.4,375.3 488.7,375.1 489.1,374.8 489.5,374.3 490.0,373.5 490.8,371.9 491.8,369.6 492.8,367.2 493.8,365.5 494.6,364.4 495.4,363.4 496.4,362.6 497.5,362.2 499.1,362.5 501.2,363.2 503.3,363.8 505.0,364.0 506.3,363.4 507.6,362.4 508.9,361.1 510.0,359.8 511.2,358.0 512.5,355.7 513.8,353.2 515.0,351.0 516.1,348.8 517.4,346.3 518.7,343.6 520.0,341.0 521.7,337.9 523.8,334.1 525.9,330.3 527.5,327.2 528.6,324.7 529.6,322.0 530.4,319.5 531.2,317.2 532.1,315.1 533.0,312.7 534.0,310.5 535.0,308.5 536.2,306.6 537.8,304.6 539.3,302.7 540.5,301.0 541.4,299.5 542.3,297.8 543.1,296.1 543.8,294.5 544.4,292.5 545.0,289.9 545.7,287.5 546.2,285.8 546.8,284.7 547.4,283.9 548.1,283.3 548.8,282.8 549.7,282.4 550.8,282.3 552.0,282.0 553.0,281.2 553.8,279.8 554.7,277.6 555.5,275.3 556.2,273.2 557.1,271.3 558.0,269.0 559.0,266.7 560.0,264.5 561.1,262.0 562.4,259.1 563.8,256.0 565.0,253.2 566.2,250.4 567.5,247.0 568.8,243.6 570.0,240.8 571.2,238.0 572.5,235.1 573.8,232.1 575.0,229.5 576.2,226.7 577.6,223.5 578.9,220.5 580.0,218.2 580.9,216.8 581.8,215.7 582.7,214.8 583.8,214.0 585.1,213.2 586.7,212.5 588.5,211.6 590.0,210.8 591.6,209.5 593.4,207.8 595.1,206.1 596.2,205.0 596.8,204.6 597.0,204.6 597.1,204.5 597.5,204.0 598.3,202.7 599.5,200.8 600.8,198.7 601.9,196.9 602.9,195.2 604.1,193.2 605.2,191.3 606.2,189.8 607.3,188.4 608.4,187.0 609.5,185.6 610.6,184.4 611.7,183.1 613.1,181.6 614.4,180.2 615.6,179.0 616.7,178.1 617.9,177.2 619.0,176.3 620.0,175.6 620.9,174.9 622.0,174.1 623.0,173.4 623.8,172.9 624.4,172.6 624.9,172.4 625.5,172.3 626.0,172.2 626.6,172.3 627.2,172.4 628.0,172.6 628.8,172.9 629.8,173.4 631.1,174.2 632.5,175.0 633.8,175.6 634.9,176.0 636.2,176.3 637.5,176.6 638.8,176.9 640.1,177.4 641.8,178.0 643.5,178.6 645.0,179.0 646.5,179.2 648.2,179.3 649.9,179.4 651.2,179.4 652.5,179.3 653.9,179.2 655.2,179.0 656.2,178.8 657.2,178.4 658.2,177.9 659.2,177.2 660.0,176.5 660.7,175.5 661.5,174.3 662.3,172.8 663.1,171.2 664.1,169.1 665.2,166.4 666.4,163.6 667.5,161.2 668.5,159.1 669.7,156.8 670.9,154.7 671.9,153.1 672.9,152.1 674.0,151.3 675.1,150.5 676.2,149.6 677.7,148.1 679.5,146.1 681.2,144.1 682.5,142.5 683.3,141.3 683.9,140.2 684.5,139.1 685.0,138.0 685.6,136.6 686.2,134.8 686.8,133.0 687.5,131.8 688.3,131.0 689.3,130.5 690.3,130.0 691.2,129.2 692.1,127.9 693.1,126.1 694.0,124.3 695.0,123.0 696.1,122.2 697.4,121.7 698.8,121.2 700.0,120.5 701.2,119.5 702.5,118.1 703.8,116.7 705.0,115.5 706.1,114.3 707.4,112.9 708.7,111.6 710.0,110.5 711.6,109.6 713.7,108.8 715.8,107.9 717.5,107.0 719.1,105.9 720.8,104.4 722.4,102.9 723.8,101.5 725.0,99.9 726.4,98.0 727.7,96.0 728.8,94.2 729.8,92.4 730.8,90.3 731.8,88.3 732.5,86.8 732.9,85.5 733.1,84.4 733.4,83.4 733.8,82.5 734.5,81.7 735.6,80.9 736.6,80.0 737.5,78.8 738.2,76.7 738.8,74.0 739.5,71.1 740.0,68.8 740.5,66.5 741.0,64.0 741.5,61.7 742.0,60.0 742.5,58.8 743.1,57.7 743.8,56.9 744.5,56.2 745.4,56.0 746.5,55.9 747.6,55.8 748.8,55.5 750.0,54.8 751.6,53.7 753.2,52.6 754.5,52.0 755.6,51.9 756.7,52.2 757.7,52.6 758.8,53.0 759.9,53.5 761.1,54.2 762.5,54.8 763.8,55.0 765.2,54.5 767.0,53.5 768.7,52.6 770.0,52.0 770.9,52.0 771.7,52.3 772.5,52.8 773.2,53.2 774.1,54.0 775.2,55.1 776.3,56.1 777.5,56.4 779.1,55.7 781.3,54.3 783.4,52.8 785.0,52.0 786.1,52.0 787.0,52.5 787.9,53.2 788.8,53.8 789.8,54.3 791.1,55.1 792.5,55.9 794.0,56.6 795.8,57.3 798.1,58.1 800.5,59.0 802.5,60.0 804.3,61.3 806.3,62.9 808.3,64.6 810.0,66.2 811.8,68.1 813.9,70.3 815.9,72.6 817.5,74.5 818.8,76.2 820.1,78.0 821.4,80.0 822.5,82.0 823.8,84.7 825.2,88.2 826.6,91.6 827.8,94.2 828.6,96.2 829.5,97.9 830.3,99.4 830.9,100.6 831.5,101.6 832.1,102.5 832.7,103.3 833.2,103.9 833.8,104.4 834.4,104.7 835.1,105.1 835.7,105.7 836.4,106.7 837.2,108.0 838.1,109.4 839.0,110.5 840.0,111.5 841.3,112.6 842.7,113.6 844.0,114.2 845.4,114.6 847.1,114.7 848.8,114.8 850.2,115.0 851.7,115.5 853.3,116.1 855.0,116.8 856.5,117.5 858.2,118.4 860.1,119.5 862.0,120.5 863.5,121.0 864.7,120.6 865.8,119.7 866.8,118.7 867.8,118.0 868.6,117.6 869.5,117.4 870.5,117.2 871.3,117.3 872.2,117.6 873.1,118.1 874.2,118.9 875.2,120.0 876.6,121.8 878.2,124.3 879.9,127.0 881.5,129.2 883.2,131.4 885.3,133.7 887.4,136.0 889.0,138.0 890.4,139.9 891.7,141.9 893.0,143.8 894.0,145.5 894.8,146.9 895.6,148.4 896.3,150.0 897.0,151.8 897.7,154.1 898.6,157.0 899.5,160.2 900.2,163.0 901.1,165.9 902.1,169.3 903.1,172.7 904.0,175.5 904.9,178.1 905.9,180.8 906.9,183.4 907.8,185.5 908.4,187.2 909.1,188.9 909.7,190.6 910.2,192.0 910.8,193.4 911.5,194.9 912.1,196.6 912.8,198.2 913.4,200.4 914.3,203.1 915.2,205.9 916.0,208.2 916.9,210.4 918.1,212.6 919.2,214.9 920.2,217.0 921.3,219.2 922.5,221.8 923.7,224.5 924.7,227.0 925.6,229.8 926.6,233.2 927.6,236.6 928.5,239.5 929.2,242.2 930.0,245.3 930.9,248.2 931.7,250.8 932.6,253.2 933.8,255.9 935.0,258.5 936.0,260.8 936.9,262.9 937.9,265.1 938.8,267.4 939.7,269.5 940.6,271.8 941.5,274.5 942.5,277.2 943.5,279.5 944.4,281.6 945.5,283.7 946.7,286.0 947.7,288.2 948.7,291.1 949.8,294.6 950.9,298.1 952.0,301.0 953.0,303.5 954.2,306.1 955.4,308.6 956.5,311.0 957.8,313.5 959.3,316.5 960.7,319.5 962.0,322.2 963.1,325.1 964.3,328.3 965.4,331.6 966.5,334.8 967.6,338.3 969.0,342.5 970.3,346.6 971.5,349.8 972.7,351.9 974.1,353.8 975.4,355.5 976.5,357.2 977.6,359.5 978.8,362.3 979.8,364.8 980.5,366.5" fill="none" stroke="#ffffff" stroke-opacity="0.55" stroke-width="2" stroke-linejoin="round" transform="translate(0,1.3)"/>
<polyline points="45.0,387.5 45.3,387.4 45.9,387.4 46.5,387.2 47.0,387.0 47.5,386.7 48.2,386.3 48.9,385.7 49.5,384.8 50.2,383.1 51.0,380.7 51.8,378.1 52.5,376.0 53.2,374.2 53.9,372.2 54.7,370.3 55.5,368.5 56.5,366.5 57.8,364.3 59.0,361.9 60.0,359.8 60.7,357.4 61.4,354.8 62.0,352.1 62.5,349.8 63.0,347.6 63.6,345.4 64.2,343.1 65.0,341.0 66.3,338.8 68.1,336.2 69.9,333.5 71.2,331.0 72.3,328.1 73.3,324.7 74.2,321.3 75.0,318.5 75.7,316.2 76.3,313.9 76.9,311.7 77.5,309.8 78.1,307.7 78.8,305.3 79.4,303.1 80.0,301.5 80.6,300.4 81.2,299.6 81.8,298.9 82.5,298.0 83.3,296.8 84.4,295.3 85.4,293.6 86.2,292.1 86.9,290.5 87.6,288.5 88.2,286.5 88.8,284.6 89.3,282.6 89.9,280.3 90.6,278.0 91.2,275.9 92.1,273.7 93.1,271.1 94.1,268.6 95.0,266.5 95.9,264.6 96.9,262.7 97.9,260.7 98.8,259.0 99.4,257.2 100.1,255.2 100.8,253.3 101.2,251.5 101.6,249.7 101.9,247.7 102.2,245.7 102.6,244.0 103.1,242.5 103.7,241.0 104.4,239.5 105.0,238.1 105.7,236.6 106.4,235.0 107.3,233.3 108.1,231.9 109.1,230.6 110.3,229.1 111.5,227.6 112.5,226.2 113.4,224.7 114.5,223.0 115.5,221.1 116.2,219.4 116.9,217.6 117.6,215.4 118.2,213.2 118.8,211.2 119.4,209.2 120.0,206.8 120.7,204.5 121.2,202.5 121.7,200.6 122.1,198.6 122.6,196.6 123.1,195.0 123.8,193.7 124.7,192.5 125.6,191.3 126.2,190.0 126.7,188.4 127.2,186.4 127.7,184.4 128.1,182.5 128.6,180.5 129.3,178.2 130.0,175.8 130.6,173.8 131.2,171.7 131.9,169.4 132.5,167.1 133.1,165.0 133.7,162.9 134.4,160.6 135.0,158.2 135.6,156.2 136.2,154.4 136.9,152.3 137.5,150.4 138.1,148.8 138.7,147.3 139.3,145.7 140.0,144.2 140.6,143.1 141.3,142.2 142.2,141.4 143.1,140.6 143.8,140.0 144.1,139.4 144.3,138.9 144.6,138.3 145.0,137.5 145.9,136.4 147.1,134.9 148.4,133.3 149.4,131.9 150.1,130.4 150.7,128.7 151.3,127.0 151.9,125.6 152.5,124.4 153.1,123.3 153.7,122.2 154.4,121.2 155.2,120.4 156.2,119.6 157.2,118.8 158.1,118.1 158.9,117.5 159.7,116.8 160.6,116.3 161.2,115.9 161.8,115.7 162.3,115.6 163.0,115.6 163.8,115.8 165.0,116.1 166.6,116.6 168.4,117.2 170.0,117.8 171.7,118.4 173.8,119.2 175.9,120.0 177.5,120.6 178.8,121.0 180.2,121.5 181.4,121.9 182.5,122.2 183.5,122.7 184.4,123.2 185.4,123.8 186.2,124.4 187.1,125.2 188.1,126.2 189.1,127.2 190.0,128.1 190.8,129.0 191.7,130.1 192.6,130.9 193.4,131.2 194.1,130.8 194.8,129.9 195.5,128.8 196.2,127.8 197.1,126.7 198.1,125.4 199.1,124.1 200.0,123.1 200.8,122.4 201.6,121.7 202.4,121.2 203.1,120.6 203.8,120.0 204.5,119.2 205.4,118.5 206.2,117.9 207.5,117.4 209.0,116.8 210.6,116.2 211.9,115.6 212.9,114.8 213.8,113.8 214.7,112.8 215.6,111.9 216.6,111.0 217.8,110.0 219.0,108.9 220.0,108.1 221.1,107.4 222.3,106.7 223.5,106.0 224.4,105.2 225.1,104.4 225.7,103.4 226.3,102.3 226.9,101.2 227.5,100.1 228.2,98.6 229.0,97.0 229.8,95.0 230.6,92.0 231.7,87.9 232.8,83.9 233.8,81.2 234.6,80.3 235.6,80.3 236.6,80.4 237.5,80.0 238.4,78.7 239.3,76.7 240.3,74.5 241.2,72.5 242.4,70.3 243.7,67.6 245.1,64.8 246.2,62.5 247.4,60.3 248.8,58.0 250.1,55.7 251.2,53.8 252.2,52.0 253.2,50.1 254.2,48.1 255.0,46.2 255.8,43.9 256.6,41.1 257.3,38.3 258.0,36.2 258.7,34.8 259.4,33.6 260.1,32.7 260.8,32.0 261.3,31.6 261.8,31.4 262.4,31.3 263.0,31.2 263.6,31.3 264.4,31.4 265.3,31.6 266.2,32.0 267.5,32.7 269.2,33.8 270.9,35.0 272.5,36.2 274.2,37.8 276.1,39.8 278.1,41.8 280.0,43.8 282.0,45.7 284.4,48.1 286.8,50.4 288.8,52.5 290.3,54.5 291.9,56.8 293.5,59.1 295.0,61.2 296.7,63.5 298.7,66.1 300.7,68.7 302.5,71.2 304.3,74.0 306.2,77.2 308.2,80.5 310.0,83.5 311.9,86.6 314.0,90.1 316.1,93.7 318.0,96.8 319.8,99.7 321.9,103.0 323.9,106.3 325.5,109.2 326.9,112.2 328.4,115.4 329.8,118.7 331.0,121.8 332.1,124.9 333.3,128.5 334.4,132.2 335.5,135.5 336.6,138.9 338.0,142.9 339.3,146.9 340.5,150.5 341.7,154.3 343.0,158.6 344.3,163.0 345.5,166.8 346.7,170.4 348.1,174.6 349.4,178.5 350.5,181.8 351.5,184.5 352.4,187.2 353.4,189.8 354.2,192.0 355.1,194.2 356.1,196.5 357.1,198.8 358.0,200.8 358.9,202.6 359.8,204.7 360.8,206.7 361.8,208.2 362.8,209.6 364.1,210.9 365.5,212.2 366.8,213.2 368.2,214.2 369.8,215.1 371.5,216.1 373.0,217.0 374.4,218.3 375.9,220.0 377.4,221.4 378.8,222.0 380.1,221.2 381.7,219.4 383.1,217.5 384.2,216.2 385.0,215.7 385.6,215.5 386.1,215.5 386.8,215.8 387.5,216.2 388.4,217.0 389.4,218.1 390.5,219.5 392.1,221.8 394.1,224.9 396.2,228.1 398.0,230.8 399.5,232.9 401.2,235.1 402.8,237.3 404.2,239.5 405.7,242.0 407.3,245.1 409.0,248.1 410.5,250.8 412.2,253.2 414.2,255.9 416.3,258.5 418.0,260.8 419.5,262.9 421.2,265.2 422.8,267.5 424.2,269.5 425.7,271.5 427.4,273.8 429.1,276.1 430.5,278.2 431.7,280.5 433.0,283.0 434.3,285.7 435.5,288.2 436.9,291.1 438.4,294.5 440.1,298.0 441.5,301.0 442.9,304.0 444.5,307.4 446.1,310.7 447.5,313.5 449.0,316.2 450.6,319.2 452.3,322.0 453.8,324.0 455.2,325.2 456.8,326.1 458.5,327.0 460.0,328.0 461.7,329.6 463.7,331.6 465.7,333.8 467.5,336.0 469.3,338.4 471.4,341.4 473.4,344.5 475.0,347.2 476.3,350.2 477.7,353.6 478.9,356.9 480.0,359.8 481.0,362.3 482.0,365.2 483.0,367.8 483.8,369.8 484.4,371.3 485.0,372.6 485.5,373.8 485.9,374.6 486.2,375.2 486.5,375.5 486.8,375.8 487.1,375.9 487.4,375.9 487.7,375.8 488.1,375.5 488.4,375.3 488.7,375.1 489.1,374.8 489.5,374.3 490.0,373.5 490.8,371.9 491.8,369.6 492.8,367.2 493.8,365.5 494.6,364.4 495.4,363.4 496.4,362.6 497.5,362.2 499.1,362.5 501.2,363.2 503.3,363.8 505.0,364.0 506.3,363.4 507.6,362.4 508.9,361.1 510.0,359.8 511.2,358.0 512.5,355.7 513.8,353.2 515.0,351.0 516.1,348.8 517.4,346.3 518.7,343.6 520.0,341.0 521.7,337.9 523.8,334.1 525.9,330.3 527.5,327.2 528.6,324.7 529.6,322.0 530.4,319.5 531.2,317.2 532.1,315.1 533.0,312.7 534.0,310.5 535.0,308.5 536.2,306.6 537.8,304.6 539.3,302.7 540.5,301.0 541.4,299.5 542.3,297.8 543.1,296.1 543.8,294.5 544.4,292.5 545.0,289.9 545.7,287.5 546.2,285.8 546.8,284.7 547.4,283.9 548.1,283.3 548.8,282.8 549.7,282.4 550.8,282.3 552.0,282.0 553.0,281.2 553.8,279.8 554.7,277.6 555.5,275.3 556.2,273.2 557.1,271.3 558.0,269.0 559.0,266.7 560.0,264.5 561.1,262.0 562.4,259.1 563.8,256.0 565.0,253.2 566.2,250.4 567.5,247.0 568.8,243.6 570.0,240.8 571.2,238.0 572.5,235.1 573.8,232.1 575.0,229.5 576.2,226.7 577.6,223.5 578.9,220.5 580.0,218.2 580.9,216.8 581.8,215.7 582.7,214.8 583.8,214.0 585.1,213.2 586.7,212.5 588.5,211.6 590.0,210.8 591.6,209.5 593.4,207.8 595.1,206.1 596.2,205.0 596.8,204.6 597.0,204.6 597.1,204.5 597.5,204.0 598.3,202.7 599.5,200.8 600.8,198.7 601.9,196.9 602.9,195.2 604.1,193.2 605.2,191.3 606.2,189.8 607.3,188.4 608.4,187.0 609.5,185.6 610.6,184.4 611.7,183.1 613.1,181.6 614.4,180.2 615.6,179.0 616.7,178.1 617.9,177.2 619.0,176.3 620.0,175.6 620.9,174.9 622.0,174.1 623.0,173.4 623.8,172.9 624.4,172.6 624.9,172.4 625.5,172.3 626.0,172.2 626.6,172.3 627.2,172.4 628.0,172.6 628.8,172.9 629.8,173.4 631.1,174.2 632.5,175.0 633.8,175.6 634.9,176.0 636.2,176.3 637.5,176.6 638.8,176.9 640.1,177.4 641.8,178.0 643.5,178.6 645.0,179.0 646.5,179.2 648.2,179.3 649.9,179.4 651.2,179.4 652.5,179.3 653.9,179.2 655.2,179.0 656.2,178.8 657.2,178.4 658.2,177.9 659.2,177.2 660.0,176.5 660.7,175.5 661.5,174.3 662.3,172.8 663.1,171.2 664.1,169.1 665.2,166.4 666.4,163.6 667.5,161.2 668.5,159.1 669.7,156.8 670.9,154.7 671.9,153.1 672.9,152.1 674.0,151.3 675.1,150.5 676.2,149.6 677.7,148.1 679.5,146.1 681.2,144.1 682.5,142.5 683.3,141.3 683.9,140.2 684.5,139.1 685.0,138.0 685.6,136.6 686.2,134.8 686.8,133.0 687.5,131.8 688.3,131.0 689.3,130.5 690.3,130.0 691.2,129.2 692.1,127.9 693.1,126.1 694.0,124.3 695.0,123.0 696.1,122.2 697.4,121.7 698.8,121.2 700.0,120.5 701.2,119.5 702.5,118.1 703.8,116.7 705.0,115.5 706.1,114.3 707.4,112.9 708.7,111.6 710.0,110.5 711.6,109.6 713.7,108.8 715.8,107.9 717.5,107.0 719.1,105.9 720.8,104.4 722.4,102.9 723.8,101.5 725.0,99.9 726.4,98.0 727.7,96.0 728.8,94.2 729.8,92.4 730.8,90.3 731.8,88.3 732.5,86.8 732.9,85.5 733.1,84.4 733.4,83.4 733.8,82.5 734.5,81.7 735.6,80.9 736.6,80.0 737.5,78.8 738.2,76.7 738.8,74.0 739.5,71.1 740.0,68.8 740.5,66.5 741.0,64.0 741.5,61.7 742.0,60.0 742.5,58.8 743.1,57.7 743.8,56.9 744.5,56.2 745.4,56.0 746.5,55.9 747.6,55.8 748.8,55.5 750.0,54.8 751.6,53.7 753.2,52.6 754.5,52.0 755.6,51.9 756.7,52.2 757.7,52.6 758.8,53.0 759.9,53.5 761.1,54.2 762.5,54.8 763.8,55.0 765.2,54.5 767.0,53.5 768.7,52.6 770.0,52.0 770.9,52.0 771.7,52.3 772.5,52.8 773.2,53.2 774.1,54.0 775.2,55.1 776.3,56.1 777.5,56.4 779.1,55.7 781.3,54.3 783.4,52.8 785.0,52.0 786.1,52.0 787.0,52.5 787.9,53.2 788.8,53.8 789.8,54.3 791.1,55.1 792.5,55.9 794.0,56.6 795.8,57.3 798.1,58.1 800.5,59.0 802.5,60.0 804.3,61.3 806.3,62.9 808.3,64.6 810.0,66.2 811.8,68.1 813.9,70.3 815.9,72.6 817.5,74.5 818.8,76.2 820.1,78.0 821.4,80.0 822.5,82.0 823.8,84.7 825.2,88.2 826.6,91.6 827.8,94.2 828.6,96.2 829.5,97.9 830.3,99.4 830.9,100.6 831.5,101.6 832.1,102.5 832.7,103.3 833.2,103.9 833.8,104.4 834.4,104.7 835.1,105.1 835.7,105.7 836.4,106.7 837.2,108.0 838.1,109.4 839.0,110.5 840.0,111.5 841.3,112.6 842.7,113.6 844.0,114.2 845.4,114.6 847.1,114.7 848.8,114.8 850.2,115.0 851.7,115.5 853.3,116.1 855.0,116.8 856.5,117.5 858.2,118.4 860.1,119.5 862.0,120.5 863.5,121.0 864.7,120.6 865.8,119.7 866.8,118.7 867.8,118.0 868.6,117.6 869.5,117.4 870.5,117.2 871.3,117.3 872.2,117.6 873.1,118.1 874.2,118.9 875.2,120.0 876.6,121.8 878.2,124.3 879.9,127.0 881.5,129.2 883.2,131.4 885.3,133.7 887.4,136.0 889.0,138.0 890.4,139.9 891.7,141.9 893.0,143.8 894.0,145.5 894.8,146.9 895.6,148.4 896.3,150.0 897.0,151.8 897.7,154.1 898.6,157.0 899.5,160.2 900.2,163.0 901.1,165.9 902.1,169.3 903.1,172.7 904.0,175.5 904.9,178.1 905.9,180.8 906.9,183.4 907.8,185.5 908.4,187.2 909.1,188.9 909.7,190.6 910.2,192.0 910.8,193.4 911.5,194.9 912.1,196.6 912.8,198.2 913.4,200.4 914.3,203.1 915.2,205.9 916.0,208.2 916.9,210.4 918.1,212.6 919.2,214.9 920.2,217.0 921.3,219.2 922.5,221.8 923.7,224.5 924.7,227.0 925.6,229.8 926.6,233.2 927.6,236.6 928.5,239.5 929.2,242.2 930.0,245.3 930.9,248.2 931.7,250.8 932.6,253.2 933.8,255.9 935.0,258.5 936.0,260.8 936.9,262.9 937.9,265.1 938.8,267.4 939.7,269.5 940.6,271.8 941.5,274.5 942.5,277.2 943.5,279.5 944.4,281.6 945.5,283.7 946.7,286.0 947.7,288.2 948.7,291.1 949.8,294.6 950.9,298.1 952.0,301.0 953.0,303.5 954.2,306.1 955.4,308.6 956.5,311.0 957.8,313.5 959.3,316.5 960.7,319.5 962.0,322.2 963.1,325.1 964.3,328.3 965.4,331.6 966.5,334.8 967.6,338.3 969.0,342.5 970.3,346.6 971.5,349.8 972.7,351.9 974.1,353.8 975.4,355.5 976.5,357.2 977.6,359.5 978.8,362.3 979.8,364.8 980.5,366.5" fill="none" stroke="#c02fc2" stroke-width="2.05" stroke-linejoin="round" stroke-linecap="round"/>
<rect x="34.4" y="8" width="9.6" height="401" fill="url(#gb)"/>
<g shape-rendering="crispEdges" fill="#000"><rect x="44" y="7" width="1" height="408"/><rect x="34" y="409" width="958" height="1"/><rect x="34" y="409" width="10" height="1"/><rect x="34" y="385" width="10" height="1"/><rect x="34" y="362" width="10" height="1"/><rect x="34" y="338" width="10" height="1"/><rect x="34" y="315" width="10" height="1"/><rect x="34" y="291" width="10" height="1"/><rect x="34" y="268" width="10" height="1"/><rect x="34" y="244" width="10" height="1"/><rect x="34" y="221" width="10" height="1"/><rect x="34" y="197" width="10" height="1"/><rect x="34" y="174" width="10" height="1"/><rect x="34" y="150" width="10" height="1"/><rect x="34" y="127" width="10" height="1"/><rect x="34" y="103" width="10" height="1"/><rect x="34" y="80" width="10" height="1"/><rect x="34" y="56" width="10" height="1"/><rect x="34" y="33" width="10" height="1"/></g>
<g shape-rendering="crispEdges" fill="#2a2a2a"><rect x="99" y="410" width="1" height="5"/><rect x="153" y="410" width="1" height="5"/><rect x="208" y="410" width="1" height="5"/><rect x="262" y="410" width="1" height="5"/><rect x="317" y="410" width="1" height="5"/><rect x="371" y="410" width="1" height="5"/><rect x="426" y="410" width="1" height="5"/><rect x="480" y="410" width="1" height="5"/><rect x="535" y="410" width="1" height="5"/><rect x="589" y="410" width="1" height="5"/><rect x="644" y="410" width="1" height="5"/><rect x="698" y="410" width="1" height="5"/><rect x="753" y="410" width="1" height="5"/><rect x="807" y="410" width="1" height="5"/><rect x="862" y="410" width="1" height="5"/><rect x="916" y="410" width="1" height="5"/><rect x="971" y="410" width="1" height="5"/></g>
</svg>
<div class="yl" style="top:404px">0,0</div><div class="yl" style="top:380px">20,0</div><div class="yl" style="top:357px">40,0</div><div class="yl" style="top:333px">60,0</div><div class="yl" style="top:310px">80,0</div><div class="yl" style="top:286px">100,0</div><div class="yl" style="top:263px">120,0</div><div class="yl" style="top:239px">140,0</div><div class="yl" style="top:216px">160,0</div><div class="yl" style="top:192px">180,0</div><div class="yl" style="top:169px">200,0</div><div class="yl" style="top:145px">220,0</div><div class="yl" style="top:122px">240,0</div><div class="yl" style="top:98px">260,0</div><div class="yl" style="top:75px">280,0</div><div class="yl" style="top:51px">300,0</div><div class="yl" style="top:28px">320,0</div>
<div class="xl" style="left:24px">0,0</div><div class="xl" style="left:79px">2,0</div><div class="xl" style="left:133px">4,0</div><div class="xl" style="left:188px">6,0</div><div class="xl" style="left:242px">8,0</div><div class="xl" style="left:297px">10,0</div><div class="xl" style="left:351px">12,0</div><div class="xl" style="left:406px">14,0</div><div class="xl" style="left:460px">16,0</div><div class="xl" style="left:515px">18,0</div><div class="xl" style="left:569px">20,0</div><div class="xl" style="left:624px">22,0</div><div class="xl" style="left:678px">24,0</div><div class="xl" style="left:733px">26,0</div><div class="xl" style="left:787px">28,0</div><div class="xl" style="left:842px">30,0</div><div class="xl" style="left:896px">32,0</div><div class="xl" style="left:951px">34,0</div>
<div class="u">m</div>
</div></body></html>
